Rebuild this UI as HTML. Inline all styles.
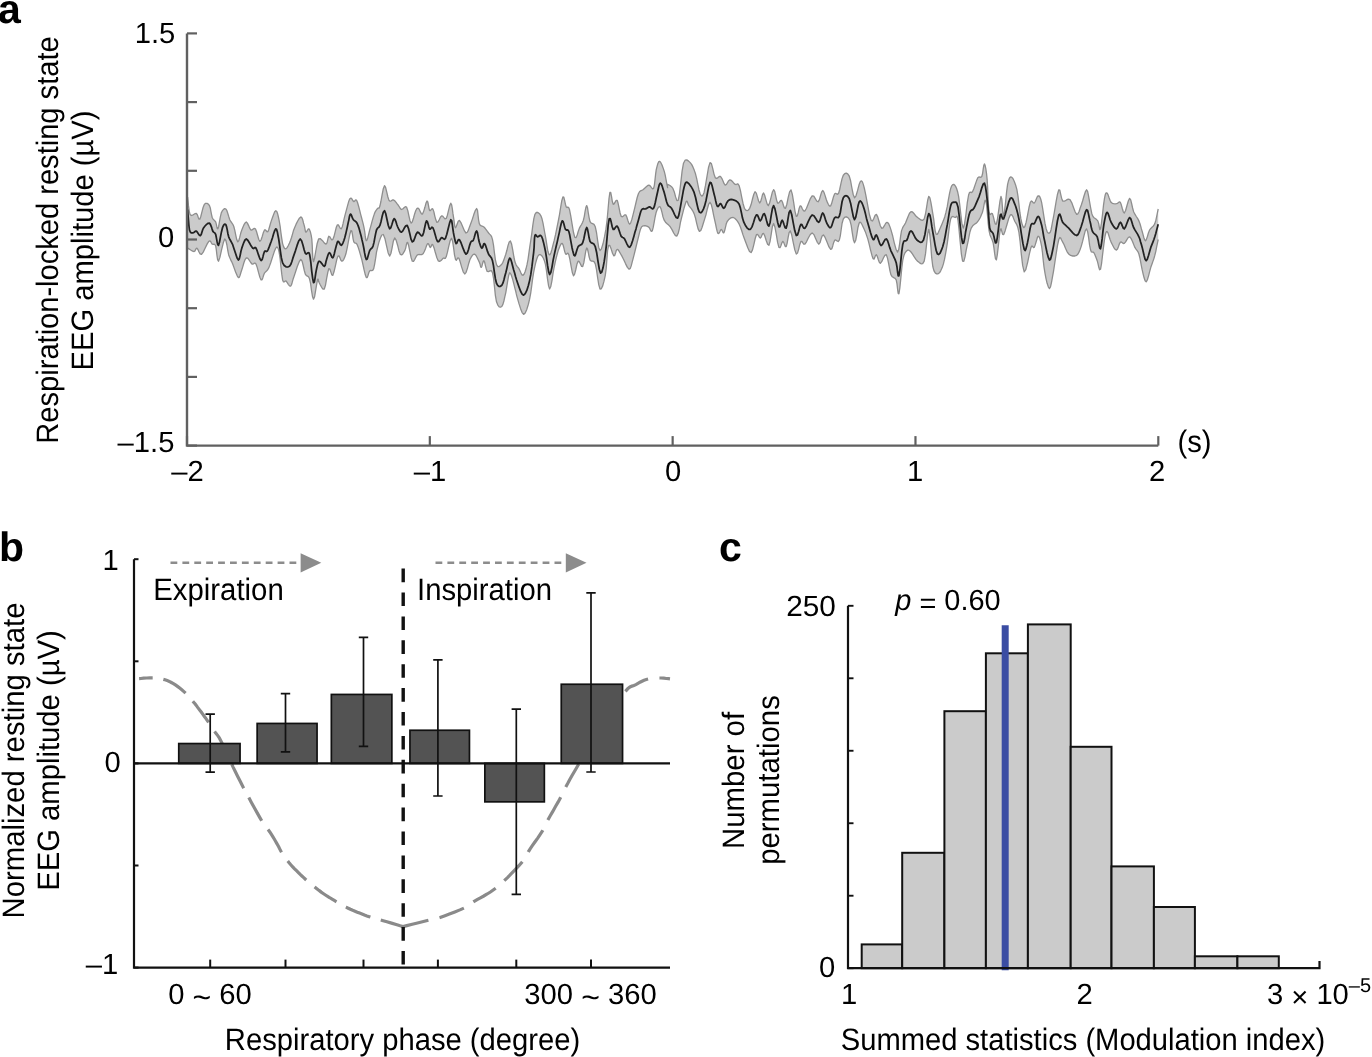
<!DOCTYPE html>
<html><head><meta charset="utf-8"><style>
html,body{margin:0;padding:0;background:#fff;width:1372px;height:1057px;overflow:hidden}
svg{display:block;will-change:transform}
text{font-family:"Liberation Sans", sans-serif;fill:#000;text-rendering:geometricPrecision}
</style></head><body>
<svg width="1372" height="1057" viewBox="0 0 1372 1057">
<rect x="0" y="0" width="1372" height="1057" fill="#fff"/>
<path d="M187.6,197.0 L188.0,200.6 L188.5,205.9 L189.2,211.1 L190.1,214.6 L191.5,215.5 L193.2,214.8 L194.9,213.7 L196.4,213.5 L197.4,214.9 L198.2,217.2 L198.9,219.0 L199.8,219.2 L200.8,216.5 L201.9,212.1 L203.1,207.5 L204.3,204.4 L205.6,203.3 L207.0,203.3 L208.3,204.1 L209.4,205.5 L210.3,207.9 L210.9,211.3 L211.6,214.8 L212.2,217.5 L213.1,219.1 L214.0,220.1 L214.9,220.9 L215.7,222.0 L216.3,224.1 L216.8,226.7 L217.3,228.7 L217.9,228.8 L218.7,226.2 L219.5,221.5 L220.4,216.6 L221.3,212.9 L222.4,210.7 L223.6,209.3 L224.7,208.6 L225.9,209.0 L226.9,210.7 L227.9,213.7 L228.9,217.0 L229.8,219.7 L230.8,221.5 L231.8,222.9 L232.8,224.3 L233.8,226.5 L234.8,230.4 L235.8,235.4 L236.8,239.8 L237.8,241.9 L238.8,240.7 L239.7,237.4 L240.7,233.3 L241.8,230.0 L242.9,227.3 L244.0,224.7 L245.2,222.8 L246.3,222.0 L247.4,223.1 L248.6,225.6 L249.7,228.2 L250.8,230.0 L252.0,230.0 L253.1,229.1 L254.3,228.4 L255.4,228.8 L256.5,231.5 L257.7,235.7 L258.8,239.5 L259.9,241.3 L261.1,239.8 L262.3,236.3 L263.4,232.4 L264.5,230.0 L265.4,229.8 L266.2,230.8 L267.1,231.8 L267.9,231.7 L268.7,229.8 L269.5,227.0 L270.4,223.8 L271.3,220.9 L272.4,217.8 L273.6,214.5 L274.7,211.8 L275.8,210.7 L276.8,211.5 L277.6,213.7 L278.4,217.0 L279.2,220.9 L280.1,226.1 L280.9,232.5 L281.8,238.8 L282.6,243.6 L283.5,246.4 L284.3,248.1 L285.1,248.8 L286.0,248.7 L287.1,247.6 L288.3,245.5 L289.5,242.9 L290.6,240.2 L291.6,237.3 L292.5,234.1 L293.4,230.8 L294.6,227.7 L296.0,224.4 L297.7,221.0 L299.4,218.2 L300.8,216.9 L301.9,217.7 L302.8,220.1 L303.5,223.0 L304.2,225.4 L304.7,227.5 L305.1,229.6 L305.4,231.3 L305.9,232.2 L306.6,231.8 L307.4,230.3 L308.2,229.0 L309.0,228.8 L309.7,230.1 L310.5,232.3 L311.2,235.3 L311.8,239.0 L312.2,244.9 L312.5,252.4 L312.9,259.0 L313.5,261.7 L314.5,258.6 L315.7,251.5 L317.1,243.8 L318.6,239.0 L320.4,238.7 L322.5,240.7 L324.4,243.1 L326.0,244.1 L327.0,242.8 L327.6,240.3 L328.2,237.7 L328.8,236.2 L329.7,236.7 L330.7,238.3 L331.8,239.8 L332.8,239.6 L333.9,236.8 L335.1,232.2 L336.2,227.6 L337.4,224.8 L338.4,224.9 L339.4,226.7 L340.4,228.5 L341.3,228.8 L342.2,227.0 L343.0,223.9 L343.8,220.2 L344.7,216.3 L345.9,211.8 L347.3,206.6 L348.6,201.8 L349.8,198.7 L350.9,198.1 L352.0,199.1 L352.9,200.7 L353.8,201.6 L354.6,201.2 L355.2,200.3 L355.9,199.8 L356.7,200.4 L357.6,202.8 L358.6,206.3 L359.7,210.3 L360.6,214.1 L361.5,217.5 L362.4,220.9 L363.3,224.3 L364.0,227.7 L364.7,231.5 L365.2,235.7 L365.7,239.2 L366.3,240.7 L367.1,239.8 L367.9,237.2 L368.8,233.6 L369.7,230.0 L370.8,226.1 L372.0,221.7 L373.2,217.4 L374.3,214.1 L375.2,211.8 L376.1,210.4 L376.9,209.3 L377.7,208.4 L378.3,208.0 L378.7,208.2 L379.2,207.9 L379.9,206.1 L380.9,201.5 L382.1,194.8 L383.3,188.7 L384.5,185.7 L385.6,187.3 L386.7,191.8 L387.9,197.0 L389.0,200.4 L390.1,201.2 L391.3,200.8 L392.4,200.0 L393.6,199.9 L394.7,200.8 L395.9,202.1 L397.0,203.6 L398.1,205.0 L399.0,206.3 L399.8,207.7 L400.6,208.9 L401.5,209.5 L402.7,209.0 L404.0,207.7 L405.3,206.7 L406.6,207.2 L407.8,210.6 L408.9,215.8 L410.0,220.7 L411.2,223.1 L412.3,221.8 L413.5,218.0 L414.7,213.7 L415.7,210.7 L416.5,209.2 L417.1,208.4 L417.8,208.2 L418.5,208.4 L419.4,209.7 L420.4,211.9 L421.4,213.8 L422.5,214.1 L423.6,211.6 L424.9,207.3 L426.0,203.1 L427.0,201.0 L427.8,202.0 L428.4,205.0 L429.0,208.3 L429.6,210.5 L430.4,210.5 L431.2,209.6 L432.1,208.7 L432.9,209.1 L433.9,211.9 L434.8,216.1 L435.9,220.1 L436.9,222.4 L438.0,221.9 L439.2,219.7 L440.4,217.2 L441.6,215.8 L442.7,216.2 L443.9,217.6 L445.0,218.8 L446.2,218.4 L447.4,215.2 L448.6,210.1 L449.8,205.4 L450.8,203.2 L451.6,204.7 L452.3,208.5 L452.9,213.2 L453.5,217.1 L454.0,220.4 L454.4,223.7 L454.8,226.4 L455.5,227.7 L456.2,226.6 L457.2,223.9 L458.2,221.2 L459.4,220.4 L460.9,222.6 L462.7,226.8 L464.5,230.9 L466.0,233.0 L467.3,232.3 L468.4,230.1 L469.5,226.9 L470.7,223.7 L472.2,219.6 L473.8,214.6 L475.4,210.3 L476.6,208.5 L477.5,210.4 L478.0,214.9 L478.6,220.0 L479.3,223.7 L480.3,225.3 L481.5,225.9 L482.7,226.3 L483.9,227.0 L485.1,228.3 L486.3,229.8 L487.4,231.4 L488.6,233.0 L489.6,234.1 L490.6,235.1 L491.6,236.6 L492.5,239.6 L493.5,245.2 L494.4,252.6 L495.4,259.8 L496.5,264.7 L497.8,266.6 L499.2,266.6 L500.5,265.5 L501.8,264.1 L502.9,262.3 L503.8,259.9 L504.8,257.1 L505.8,254.2 L506.9,250.3 L508.0,245.6 L509.2,241.9 L510.4,240.9 L511.6,244.1 L512.8,250.3 L513.9,257.0 L515.0,262.1 L516.1,264.8 L517.1,266.3 L518.0,267.4 L519.0,268.7 L520.0,270.8 L521.0,273.1 L522.0,274.9 L523.0,275.3 L524.0,274.2 L525.0,272.0 L526.0,268.8 L527.0,264.7 L528.0,259.5 L528.9,253.1 L529.9,246.2 L530.9,239.6 L531.9,232.7 L532.8,225.4 L533.8,218.9 L534.9,214.4 L536.3,212.5 L537.9,212.4 L539.5,213.7 L540.9,215.8 L542.0,218.8 L543.0,223.1 L543.9,228.0 L544.8,233.0 L545.9,238.8 L546.9,245.4 L547.9,251.3 L549.0,254.6 L549.9,254.8 L550.9,252.8 L551.9,249.4 L552.9,245.3 L554.2,240.4 L555.6,234.4 L556.9,227.9 L558.2,221.5 L559.5,214.6 L560.7,207.1 L561.8,200.7 L562.9,197.0 L563.8,197.2 L564.6,200.3 L565.4,204.2 L566.2,206.9 L567.0,207.5 L567.7,207.1 L568.5,207.3 L569.5,209.6 L570.7,215.6 L572.1,224.2 L573.5,232.5 L574.8,237.4 L576.0,237.7 L577.2,235.0 L578.3,231.2 L579.4,228.1 L580.5,226.2 L581.5,224.5 L582.5,222.6 L583.4,220.2 L584.3,216.3 L585.1,211.4 L585.9,207.3 L586.7,205.6 L587.5,207.7 L588.2,212.3 L589.1,217.6 L590.0,221.5 L591.2,223.1 L592.6,223.7 L594.0,224.4 L595.3,226.8 L596.5,232.5 L597.6,240.4 L598.7,247.4 L600.0,250.6 L601.4,248.9 L603.0,243.8 L604.5,236.9 L605.9,229.4 L607.1,220.1 L608.1,208.8 L609.0,198.6 L609.9,192.4 L610.7,192.3 L611.5,196.3 L612.3,201.3 L613.2,204.3 L614.1,203.9 L615.1,202.1 L616.2,200.3 L617.2,200.3 L618.1,203.3 L619.1,208.1 L620.1,213.0 L621.1,216.2 L622.3,216.8 L623.5,216.0 L624.6,214.9 L625.8,214.9 L626.8,217.0 L627.8,220.2 L628.8,223.1 L629.7,224.2 L630.7,222.8 L631.7,219.9 L632.7,216.2 L633.7,212.2 L634.8,207.7 L636.0,202.5 L637.2,197.5 L638.4,193.7 L639.5,191.7 L640.6,190.8 L641.7,190.4 L643.0,189.7 L644.4,188.4 L646.0,187.0 L647.5,185.7 L648.9,185.1 L650.2,185.9 L651.5,187.6 L652.6,188.9 L653.6,188.4 L654.4,185.1 L655.0,179.9 L655.6,174.3 L656.2,169.9 L657.0,166.6 L657.8,163.8 L658.6,161.9 L659.5,161.3 L660.6,162.3 L661.9,164.7 L663.1,167.9 L664.2,171.2 L665.2,175.2 L666.1,179.9 L666.9,184.3 L667.5,187.1 L667.6,187.6 L667.4,186.5 L667.3,185.1 L667.6,184.4 L668.6,184.8 L670.0,185.5 L671.5,186.7 L672.9,188.4 L674.3,192.0 L675.6,196.9 L676.9,200.6 L678.2,200.3 L679.5,193.6 L680.8,182.6 L682.1,171.1 L683.5,163.2 L685.1,160.2 L686.8,159.9 L688.6,161.1 L690.2,162.6 L691.6,164.4 L692.9,166.9 L694.2,170.1 L695.5,173.8 L696.7,178.7 L697.9,184.6 L699.0,190.0 L700.1,193.7 L701.1,195.5 L702.0,196.1 L702.9,195.2 L704.1,192.4 L705.4,185.9 L707.0,176.4 L708.5,167.5 L710.0,162.6 L711.4,163.6 L712.7,168.4 L714.0,174.1 L715.3,177.8 L716.7,178.4 L718.0,177.6 L719.3,176.5 L720.6,176.5 L721.8,178.3 L723.0,181.0 L724.1,183.7 L725.2,185.1 L726.4,184.5 L727.5,182.7 L728.7,180.7 L729.9,179.8 L731.2,180.3 L732.6,181.7 L733.9,183.3 L735.2,184.4 L736.2,184.5 L737.2,184.0 L738.1,184.0 L739.2,185.8 L740.4,190.4 L741.7,197.1 L743.1,203.7 L744.4,208.3 L745.8,210.2 L747.1,210.7 L748.4,210.0 L749.7,208.3 L751.1,204.6 L752.4,199.3 L753.8,194.3 L755.0,191.7 L756.3,193.1 L757.4,196.9 L758.6,201.0 L759.7,203.0 L760.7,201.4 L761.7,197.9 L762.6,194.4 L763.6,193.0 L764.7,195.3 L765.9,199.7 L767.1,203.9 L768.3,205.6 L769.6,203.0 L771.0,197.6 L772.3,192.3 L773.6,189.7 L774.7,191.4 L775.6,195.5 L776.6,200.1 L777.6,203.0 L778.5,203.2 L779.5,202.0 L780.5,200.6 L781.5,200.3 L782.5,202.2 L783.4,205.3 L784.4,207.9 L785.5,208.3 L786.8,204.5 L788.1,197.9 L789.6,191.9 L791.0,189.9 L792.3,194.2 L793.7,202.6 L795.0,211.3 L796.3,216.3 L797.3,215.9 L798.3,212.4 L799.2,208.2 L800.2,205.8 L801.3,206.4 L802.3,208.7 L803.5,210.8 L804.9,211.0 L806.5,208.2 L808.4,203.4 L810.4,198.6 L812.1,195.8 L813.8,196.2 L815.3,198.6 L816.7,201.0 L818.1,201.8 L819.4,199.6 L820.5,195.8 L821.6,192.1 L822.7,190.5 L823.9,192.1 L825.1,195.6 L826.3,199.5 L827.4,202.4 L828.3,204.2 L829.1,205.6 L829.8,206.2 L830.7,205.8 L831.6,203.6 L832.6,200.0 L833.6,196.4 L834.7,193.8 L835.6,193.3 L836.6,193.9 L837.6,194.3 L838.6,193.2 L839.7,189.5 L840.8,184.2 L842.0,178.9 L843.3,175.3 L844.7,173.7 L846.2,173.1 L847.7,173.9 L849.2,176.0 L850.6,180.8 L851.9,188.0 L853.2,194.5 L854.5,197.8 L856.0,195.8 L857.6,190.4 L859.1,184.6 L860.5,181.3 L861.5,180.8 L862.4,181.9 L863.3,184.4 L864.4,188.5 L865.9,195.6 L867.7,205.3 L869.4,214.5 L871.1,220.3 L872.5,221.0 L873.8,218.5 L875.1,215.3 L876.4,214.4 L877.7,216.9 L879.0,221.3 L880.3,225.7 L881.7,228.3 L883.0,227.9 L884.4,225.7 L885.7,223.3 L887.0,222.3 L888.0,222.8 L888.9,224.2 L889.8,226.4 L890.9,229.6 L892.5,235.2 L894.2,242.6 L896.0,249.2 L897.6,252.1 L898.7,249.6 L899.7,243.4 L900.6,236.3 L901.5,230.9 L902.5,228.1 L903.4,226.3 L904.4,224.9 L905.5,223.0 L906.7,220.0 L908.1,216.4 L909.5,213.3 L911.0,211.6 L912.5,212.0 L914.2,213.8 L915.9,216.0 L917.6,217.5 L919.3,218.7 L921.0,220.0 L922.7,220.3 L924.2,218.9 L925.5,214.0 L926.7,206.6 L927.8,199.7 L928.8,196.3 L929.9,197.8 L930.9,202.3 L931.9,208.1 L932.8,213.6 L933.7,219.1 L934.4,225.4 L935.2,230.8 L936.1,234.1 L937.2,234.4 L938.3,232.6 L939.5,229.8 L940.8,226.8 L942.0,223.9 L943.4,220.6 L944.8,216.7 L946.0,212.2 L947.3,206.4 L948.4,199.6 L949.6,193.1 L950.7,188.4 L951.7,185.8 L952.7,184.6 L953.7,184.4 L954.7,185.1 L955.6,186.4 L956.6,188.5 L957.6,191.7 L958.6,196.3 L959.7,204.4 L960.9,215.0 L962.0,224.3 L963.3,228.1 L964.6,223.7 L966.0,213.8 L967.3,202.7 L968.6,195.0 L969.6,192.3 L970.5,192.2 L971.5,192.6 L972.5,191.7 L973.8,188.7 L975.2,184.6 L976.6,180.6 L977.8,177.8 L978.9,176.9 L980.0,177.1 L980.9,177.3 L981.8,176.5 L982.6,173.5 L983.2,169.2 L983.8,165.4 L984.4,163.9 L985.1,165.3 L985.8,168.7 L986.5,173.4 L987.1,179.1 L987.6,186.9 L988.0,196.6 L988.5,205.8 L989.1,212.2 L989.8,214.6 L990.6,214.3 L991.5,213.3 L992.4,213.6 L993.3,216.5 L994.3,220.7 L995.3,224.0 L996.4,224.2 L997.5,218.8 L998.8,209.7 L1000.0,200.8 L1001.0,196.3 L1001.8,199.2 L1002.4,206.5 L1002.9,213.8 L1003.6,216.2 L1004.5,211.3 L1005.6,202.0 L1006.6,191.9 L1007.6,184.4 L1008.6,180.4 L1009.5,178.0 L1010.5,177.0 L1011.6,177.1 L1012.9,178.5 L1014.2,181.2 L1015.6,185.0 L1016.9,189.7 L1018.0,196.3 L1019.0,204.6 L1019.9,212.7 L1020.9,218.9 L1021.8,223.1 L1022.8,226.2 L1023.7,227.6 L1024.8,226.8 L1026.1,222.4 L1027.6,215.0 L1029.0,207.5 L1030.3,202.4 L1031.4,201.0 L1032.4,201.6 L1033.3,202.9 L1034.3,203.0 L1035.3,201.5 L1036.3,199.0 L1037.3,196.8 L1038.2,195.8 L1039.1,196.0 L1039.9,197.0 L1040.7,199.0 L1041.6,202.4 L1042.6,208.2 L1043.8,215.8 L1045.0,223.4 L1046.2,228.9 L1047.2,231.8 L1048.3,233.1 L1049.2,233.2 L1050.2,232.2 L1051.0,230.0 L1051.7,226.5 L1052.5,222.0 L1053.5,217.0 L1054.7,210.1 L1056.1,201.7 L1057.5,194.2 L1058.8,189.8 L1059.8,190.2 L1060.6,193.8 L1061.6,198.2 L1062.7,201.1 L1064.4,201.2 L1066.2,200.2 L1068.2,199.2 L1070.0,199.7 L1071.8,202.8 L1073.5,207.5 L1075.2,212.0 L1076.7,214.3 L1077.9,213.8 L1079.1,211.5 L1080.1,208.3 L1081.3,205.0 L1082.6,201.0 L1084.0,196.0 L1085.4,191.7 L1086.6,189.8 L1087.6,191.3 L1088.4,195.1 L1089.2,199.7 L1089.9,203.7 L1090.5,207.0 L1091.1,210.2 L1091.7,213.2 L1092.5,215.6 L1093.7,217.4 L1095.2,218.5 L1096.6,219.6 L1097.8,220.9 L1098.7,223.6 L1099.3,227.1 L1099.8,229.5 L1100.5,228.9 L1101.4,223.4 L1102.5,214.5 L1103.5,205.2 L1104.5,198.4 L1105.2,195.0 L1105.8,193.3 L1106.4,192.8 L1107.1,193.1 L1108.0,194.6 L1108.9,197.3 L1110.0,200.3 L1111.1,202.4 L1112.4,203.3 L1113.7,203.7 L1115.1,203.8 L1116.4,203.7 L1117.5,203.3 L1118.5,202.5 L1119.4,201.9 L1120.4,202.4 L1121.3,204.8 L1122.3,208.5 L1123.3,211.8 L1124.3,213.0 L1125.6,210.5 L1127.0,205.5 L1128.4,200.7 L1129.6,198.4 L1130.7,199.9 L1131.6,203.5 L1132.6,208.0 L1133.6,211.7 L1134.9,214.2 L1136.3,216.5 L1137.7,218.6 L1138.9,220.9 L1139.9,223.5 L1140.7,226.2 L1141.4,228.9 L1142.2,231.5 L1143.0,234.4 L1143.8,237.5 L1144.7,239.9 L1145.5,240.8 L1146.4,239.4 L1147.4,236.5 L1148.4,233.0 L1149.5,230.2 L1150.8,228.4 L1152.2,227.1 L1153.6,225.7 L1154.8,223.6 L1155.9,220.2 L1156.8,215.9 L1157.6,211.8 L1158.2,209.0 L1158.2,239.5 L1157.6,242.4 L1156.7,246.7 L1155.8,251.3 L1154.8,255.4 L1153.9,258.6 L1152.9,261.4 L1151.9,264.2 L1150.8,267.3 L1149.7,271.4 L1148.5,276.1 L1147.3,280.0 L1146.2,281.9 L1145.1,280.8 L1144.1,277.8 L1143.1,273.8 L1142.2,269.9 L1141.4,266.0 L1140.6,261.7 L1139.8,257.5 L1138.9,254.0 L1138.0,251.8 L1137.0,250.4 L1136.0,249.1 L1134.9,247.4 L1133.7,244.6 L1132.4,241.3 L1131.0,238.4 L1129.6,236.8 L1128.3,237.5 L1126.9,239.6 L1125.6,241.9 L1124.3,243.4 L1123.3,243.5 L1122.3,242.7 L1121.3,242.0 L1120.4,242.1 L1119.4,243.8 L1118.5,246.5 L1117.5,249.0 L1116.4,250.1 L1115.1,249.3 L1113.7,247.3 L1112.4,244.7 L1111.1,242.1 L1110.0,239.2 L1108.9,235.8 L1108.0,232.9 L1107.1,231.5 L1106.4,231.7 L1105.8,233.0 L1105.2,235.5 L1104.5,239.5 L1103.6,246.3 L1102.5,255.4 L1101.5,264.0 L1100.5,269.3 L1099.6,269.8 L1098.8,267.3 L1098.0,263.7 L1097.2,260.7 L1096.4,258.5 L1095.5,256.3 L1094.7,254.3 L1093.9,252.7 L1093.1,252.1 L1092.3,252.2 L1091.4,251.9 L1090.6,250.1 L1089.6,245.2 L1088.7,238.2 L1087.7,231.9 L1086.6,228.9 L1085.3,230.7 L1084.0,235.6 L1082.6,241.4 L1081.3,246.1 L1080.2,249.2 L1079.1,251.9 L1078.0,254.0 L1076.7,255.4 L1074.9,256.0 L1072.8,256.0 L1070.6,255.4 L1068.7,254.0 L1067.0,251.6 L1065.5,248.2 L1064.1,244.7 L1062.7,242.1 L1061.6,240.0 L1060.7,238.1 L1059.8,237.5 L1058.8,239.5 L1057.5,245.3 L1056.1,254.1 L1054.7,263.5 L1053.5,271.3 L1052.4,277.4 L1051.4,282.8 L1050.5,286.8 L1049.5,288.5 L1048.4,287.1 L1047.1,283.3 L1045.9,278.1 L1044.9,272.6 L1043.9,266.3 L1043.1,259.0 L1042.4,251.8 L1041.6,246.1 L1040.7,241.9 L1039.9,238.8 L1039.1,236.8 L1038.2,236.2 L1037.3,237.7 L1036.3,241.2 L1035.2,244.9 L1034.3,247.4 L1033.5,247.6 L1032.8,246.6 L1032.0,246.0 L1031.0,247.4 L1029.5,253.3 L1027.7,262.1 L1025.8,269.7 L1024.2,271.8 L1022.7,265.7 L1021.3,254.1 L1020.1,241.5 L1018.9,232.1 L1017.8,227.3 L1016.8,224.7 L1015.9,223.2 L1014.9,221.5 L1013.8,218.9 L1012.8,216.3 L1011.6,214.6 L1010.3,214.9 L1008.7,218.6 L1006.9,224.7 L1005.1,230.9 L1003.6,234.7 L1002.6,234.4 L1001.8,231.4 L1001.1,228.8 L1000.3,229.4 L999.4,235.7 L998.4,245.4 L997.3,254.8 L996.4,259.9 L995.5,258.8 L994.7,253.9 L993.9,247.7 L993.1,242.7 L992.1,239.8 L991.1,237.6 L990.0,234.9 L989.1,230.8 L988.2,223.5 L987.4,214.1 L986.6,205.4 L985.8,200.3 L985.0,200.4 L984.2,203.8 L983.4,208.4 L982.5,212.2 L981.4,214.8 L980.4,217.2 L979.2,219.4 L977.8,221.5 L976.3,223.1 L974.5,224.3 L972.7,225.8 L971.2,228.1 L970.0,231.7 L969.1,236.2 L968.2,240.9 L967.2,245.3 L966.1,250.7 L965.0,256.9 L963.8,261.3 L962.6,261.2 L961.4,254.1 L960.2,241.9 L959.0,229.1 L958.0,220.2 L957.2,216.7 L956.6,216.2 L956.1,217.0 L955.3,217.5 L954.3,217.1 L953.0,216.5 L951.8,216.8 L950.7,218.9 L949.8,223.3 L949.0,229.5 L948.2,236.4 L947.4,242.7 L946.5,248.4 L945.5,254.2 L944.5,259.4 L943.4,263.9 L942.2,267.6 L940.8,270.6 L939.5,272.8 L938.1,273.8 L936.7,273.9 L935.4,273.1 L934.0,270.8 L932.8,266.5 L931.7,257.7 L930.8,245.5 L929.8,234.6 L928.8,229.4 L927.8,233.3 L926.7,243.0 L925.5,253.9 L924.2,261.2 L922.7,263.7 L921.0,263.8 L919.3,262.6 L917.6,261.2 L915.9,259.4 L914.1,256.7 L912.4,253.9 L911.0,252.0 L909.7,250.8 L908.7,250.2 L907.8,250.1 L906.8,250.8 L905.8,251.8 L904.8,253.2 L903.8,255.8 L902.8,260.0 L901.8,267.9 L900.8,278.4 L899.8,288.1 L898.9,293.8 L898.2,293.5 L897.6,289.3 L897.0,283.9 L896.2,279.9 L895.1,278.3 L893.7,277.6 L892.3,276.8 L890.9,274.6 L889.8,270.0 L888.7,263.8 L887.5,258.1 L886.3,254.7 L884.9,255.3 L883.3,258.3 L881.7,261.7 L880.3,263.4 L879.2,262.1 L878.2,259.3 L877.3,256.4 L876.4,254.7 L875.5,255.4 L874.8,257.4 L874.0,259.1 L873.1,258.7 L871.9,255.2 L870.5,249.8 L869.1,243.8 L867.8,238.9 L866.5,235.1 L865.4,231.9 L864.2,229.2 L863.1,226.9 L862.1,224.8 L861.1,223.0 L860.2,222.1 L859.2,223.0 L858.0,227.2 L856.9,234.1 L855.7,240.3 L854.5,242.8 L853.4,239.7 L852.3,232.9 L851.2,225.4 L849.9,220.3 L848.3,218.0 L846.5,216.9 L844.8,217.2 L843.3,219.0 L842.1,223.2 L841.2,229.5 L840.3,235.8 L839.3,240.2 L838.2,241.5 L837.0,240.9 L835.8,240.0 L834.7,240.2 L833.7,242.4 L832.8,245.7 L831.9,248.6 L830.7,249.4 L829.0,246.9 L827.1,242.2 L825.1,237.4 L823.4,234.9 L822.1,236.0 L821.0,239.3 L820.0,242.7 L818.8,244.2 L817.3,242.3 L815.6,238.4 L813.9,234.6 L812.1,232.9 L810.3,234.5 L808.3,238.0 L806.5,241.8 L804.9,244.2 L803.7,244.1 L802.7,242.7 L801.9,241.4 L800.9,241.5 L799.8,244.4 L798.7,249.1 L797.5,253.1 L796.3,254.1 L794.8,249.9 L793.2,242.3 L791.7,234.8 L790.3,230.9 L789.1,232.6 L788.1,237.7 L787.1,243.3 L786.2,246.7 L785.3,246.6 L784.5,244.6 L783.7,242.4 L782.8,241.4 L781.9,242.8 L781.0,245.5 L780.0,247.7 L778.9,247.3 L777.6,242.4 L776.3,234.4 L774.9,226.9 L773.6,223.5 L772.4,226.5 L771.3,233.7 L770.1,241.2 L768.9,245.3 L767.6,244.3 L766.2,240.5 L764.8,236.0 L763.6,233.4 L762.7,233.6 L761.9,235.2 L761.2,237.1 L760.3,238.1 L759.4,237.3 L758.5,235.6 L757.5,234.3 L756.4,234.7 L755.2,238.5 L753.9,244.3 L752.5,249.9 L751.1,252.6 L749.5,251.4 L747.8,247.7 L746.0,243.0 L744.4,238.7 L743.0,234.9 L741.8,231.0 L740.5,227.3 L739.2,224.2 L737.7,221.7 L736.2,219.7 L734.7,218.3 L733.2,217.5 L731.6,217.6 L730.0,218.4 L728.5,219.8 L727.2,221.5 L726.2,224.1 L725.4,227.6 L724.6,230.8 L723.9,232.8 L723.2,232.8 L722.6,231.6 L722.0,230.1 L721.3,229.4 L720.5,230.3 L719.7,232.1 L718.8,233.5 L718.0,233.4 L717.2,231.4 L716.4,228.2 L715.6,224.2 L714.7,220.2 L713.6,215.2 L712.5,209.4 L711.3,204.5 L710.0,202.3 L708.7,204.1 L707.4,208.7 L706.1,214.2 L704.7,218.9 L703.4,223.0 L702.1,227.3 L700.8,230.5 L699.4,231.4 L698.1,228.9 L696.8,223.8 L695.5,218.0 L694.1,213.6 L692.7,210.8 L691.3,208.7 L690.0,207.1 L688.8,205.6 L688.0,203.9 L687.5,202.1 L686.9,201.1 L686.2,201.6 L685.2,204.2 L684.0,208.2 L682.8,212.9 L681.6,217.5 L680.4,222.6 L679.4,228.4 L678.2,233.3 L676.9,236.1 L675.4,235.6 L673.7,233.0 L672.0,229.6 L670.3,226.8 L668.7,225.1 L667.1,223.7 L665.5,222.2 L664.2,220.2 L663.0,216.9 L662.1,212.8 L661.1,209.1 L660.2,206.9 L659.2,206.6 L658.2,207.6 L657.2,209.5 L656.2,212.2 L655.2,216.5 L654.2,222.1 L653.2,227.4 L652.3,230.8 L651.3,231.3 L650.4,229.9 L649.5,228.0 L648.3,226.8 L646.8,226.2 L645.0,225.7 L643.2,225.8 L641.7,226.8 L640.5,229.1 L639.6,232.3 L638.7,236.0 L637.7,240.0 L636.6,244.5 L635.4,249.5 L634.2,254.4 L633.1,258.6 L632.1,262.3 L631.2,265.9 L630.3,268.4 L629.1,269.2 L627.4,267.4 L625.5,263.6 L623.5,259.3 L621.8,255.9 L620.4,253.5 L619.2,251.4 L618.2,249.9 L617.2,249.3 L616.3,250.4 L615.6,252.9 L614.8,255.2 L613.9,255.9 L612.6,253.5 L611.2,249.1 L609.8,245.5 L608.6,245.3 L607.6,250.5 L606.9,259.1 L606.2,268.4 L605.2,275.8 L604.0,281.2 L602.7,285.9 L601.3,288.8 L600.0,289.0 L598.8,284.9 L597.6,277.5 L596.5,269.6 L595.3,263.9 L594.0,261.6 L592.6,261.1 L591.2,261.0 L590.0,259.9 L589.1,256.8 L588.3,252.5 L587.5,249.0 L586.7,248.0 L585.8,251.0 L584.8,256.8 L583.8,262.9 L582.7,266.5 L581.6,266.4 L580.5,264.1 L579.3,261.7 L578.1,261.2 L576.9,264.3 L575.8,269.5 L574.6,274.2 L573.5,275.8 L572.3,272.5 L571.1,266.2 L569.9,259.3 L568.8,254.6 L567.9,253.2 L567.1,253.6 L566.3,254.3 L565.5,253.9 L564.7,251.6 L563.9,248.2 L563.1,245.0 L562.2,243.4 L561.3,243.7 L560.3,245.3 L559.3,247.8 L558.2,250.6 L557.3,253.8 L556.3,257.6 L555.3,261.9 L554.3,266.5 L553.1,272.8 L552.0,280.3 L550.8,286.5 L549.6,289.0 L548.6,285.9 L547.5,278.9 L546.5,270.9 L545.5,264.7 L544.5,261.1 L543.5,258.5 L542.5,256.7 L541.5,255.5 L540.5,254.7 L539.5,254.6 L538.5,255.2 L537.6,256.8 L536.6,259.5 L535.6,263.2 L534.6,267.6 L533.6,272.7 L532.6,278.8 L531.7,286.0 L530.7,293.1 L529.6,299.2 L528.3,304.5 L526.8,309.4 L525.2,313.0 L523.6,314.4 L522.1,312.6 L520.5,308.4 L518.9,303.4 L517.7,299.2 L516.9,296.3 L516.3,293.9 L515.8,291.5 L515.0,288.6 L513.9,284.1 L512.5,278.7 L511.0,274.3 L509.7,272.7 L508.7,275.3 L507.7,280.8 L506.7,287.2 L505.8,292.6 L504.8,296.9 L503.9,301.0 L502.9,304.4 L501.8,306.5 L500.5,307.2 L499.2,306.8 L497.8,305.1 L496.5,301.8 L495.4,295.6 L494.5,287.0 L493.6,278.6 L492.5,272.7 L491.3,270.6 L489.8,270.9 L488.5,271.7 L487.2,271.4 L486.3,269.0 L485.4,265.6 L484.7,262.4 L483.9,260.8 L483.2,261.5 L482.5,263.8 L481.9,266.2 L481.3,267.4 L480.8,267.0 L480.4,265.7 L480.0,263.9 L479.3,262.1 L478.3,260.0 L477.1,257.5 L475.9,255.3 L474.7,254.2 L473.5,254.3 L472.4,255.4 L471.2,257.2 L470.0,259.4 L468.8,263.2 L467.5,268.1 L466.1,272.3 L464.7,274.0 L463.2,271.8 L461.6,266.9 L460.1,261.6 L458.8,258.1 L457.8,257.8 L457.0,259.1 L456.3,260.3 L455.5,259.4 L454.5,254.8 L453.6,247.8 L452.6,241.3 L451.5,238.3 L450.2,240.5 L448.8,246.1 L447.4,252.4 L446.2,256.8 L445.4,258.3 L444.9,258.5 L444.3,258.1 L443.5,258.1 L442.4,259.1 L441.1,260.5 L439.6,261.4 L438.2,260.8 L436.9,257.7 L435.4,252.8 L434.1,248.0 L432.9,244.9 L432.1,244.4 L431.5,245.5 L430.9,246.9 L430.3,247.5 L429.7,246.7 L429.1,245.1 L428.4,243.7 L427.6,243.6 L426.7,245.3 L425.6,248.4 L424.3,251.5 L423.1,253.8 L421.7,254.6 L420.3,254.6 L418.8,254.5 L417.4,254.9 L416.1,256.7 L414.8,259.3 L413.5,261.3 L412.3,261.2 L411.1,257.6 L409.9,251.7 L408.7,245.8 L407.7,242.4 L407.0,242.6 L406.3,245.0 L405.7,248.1 L404.9,250.4 L403.9,252.1 L402.8,253.9 L401.6,254.9 L400.4,254.4 L399.0,250.9 L397.6,245.2 L396.1,240.1 L394.7,237.9 L393.4,240.9 L392.2,247.3 L390.9,253.5 L389.6,256.1 L388.1,252.7 L386.5,245.6 L384.9,238.4 L383.3,234.5 L381.8,235.0 L380.4,238.0 L378.9,242.4 L377.7,247.0 L376.5,252.2 L375.6,258.4 L374.6,264.3 L373.7,268.6 L372.7,270.4 L371.7,270.6 L370.7,270.4 L369.7,270.8 L368.8,272.8 L368.0,275.5 L367.2,277.6 L366.3,277.6 L365.3,274.8 L364.1,269.9 L362.9,264.4 L361.8,259.5 L360.6,255.3 L359.4,251.1 L358.3,247.5 L357.2,244.7 L356.3,243.4 L355.4,243.1 L354.6,242.9 L353.8,241.9 L353.1,238.8 L352.5,234.6 L351.8,231.1 L351.0,230.5 L349.8,234.3 L348.5,241.0 L347.1,248.3 L345.9,253.8 L344.8,257.1 L343.8,259.3 L342.9,260.6 L341.9,261.2 L340.9,260.2 L340.0,257.9 L339.0,255.9 L337.9,256.1 L336.7,259.8 L335.4,265.8 L334.0,271.8 L332.8,275.4 L331.8,274.9 L330.8,271.9 L329.8,269.0 L328.8,268.6 L327.8,272.4 L326.6,278.7 L325.5,285.1 L324.3,289.0 L323.0,289.2 L321.6,287.3 L320.2,284.7 L319.2,282.7 L318.6,281.3 L318.3,279.7 L318.0,279.0 L317.5,279.9 L316.7,284.1 L315.6,290.7 L314.6,296.7 L313.5,299.2 L312.5,296.5 L311.5,290.5 L310.6,283.7 L309.5,278.8 L308.5,276.8 L307.5,276.1 L306.4,275.7 L305.3,274.2 L304.3,270.5 L303.2,265.5 L302.1,261.2 L300.8,259.5 L299.2,261.7 L297.3,266.5 L295.5,272.0 L294.0,276.5 L292.9,279.8 L292.1,282.7 L291.4,285.0 L290.6,286.2 L289.5,285.8 L288.3,284.3 L287.1,282.4 L286.0,281.0 L285.1,281.1 L284.3,281.9 L283.5,281.9 L282.6,279.9 L281.8,274.4 L280.9,266.5 L280.1,258.5 L279.2,252.7 L278.5,249.4 L277.7,247.5 L276.9,247.0 L275.8,248.1 L274.3,251.6 L272.5,257.1 L270.6,263.0 L269.0,267.4 L267.7,269.8 L266.5,271.0 L265.5,271.9 L264.5,273.1 L263.6,275.3 L262.8,277.9 L262.0,279.8 L261.1,279.9 L259.9,277.2 L258.5,272.4 L257.2,267.4 L256.0,264.0 L254.9,263.0 L254.0,263.4 L253.1,264.1 L252.0,264.0 L250.7,262.5 L249.2,260.1 L247.7,258.2 L246.3,257.8 L245.1,259.6 L243.9,262.8 L242.8,266.6 L241.8,269.7 L240.9,272.5 L240.1,275.3 L239.3,277.3 L238.4,277.6 L237.1,275.6 L235.6,271.9 L234.0,267.6 L232.7,264.0 L231.6,261.6 L230.6,259.6 L229.7,257.6 L228.7,254.9 L227.8,250.5 L226.9,245.0 L225.9,240.5 L224.7,239.0 L223.3,242.8 L221.5,250.1 L219.9,257.4 L218.5,261.2 L217.6,259.7 L216.9,255.0 L216.3,249.6 L215.7,245.8 L214.8,244.5 L214.0,244.2 L213.1,244.3 L212.2,244.1 L211.5,243.1 L210.8,241.8 L210.0,240.9 L208.8,241.3 L207.2,243.9 L205.2,248.0 L203.2,252.1 L201.5,254.4 L200.1,253.9 L198.9,251.8 L197.9,249.5 L196.9,248.1 L196.2,248.5 L195.6,249.6 L195.0,250.9 L194.1,251.5 L192.6,251.1 L190.7,250.0 L188.9,248.9 L187.6,248.1 Z" fill="#cbcbcb" stroke="none"/>
<polyline points="187.6,197.0 188.0,200.6 188.5,205.9 189.2,211.1 190.1,214.6 191.5,215.5 193.2,214.8 194.9,213.7 196.4,213.5 197.4,214.9 198.2,217.2 198.9,219.0 199.8,219.2 200.8,216.5 201.9,212.1 203.1,207.5 204.3,204.4 205.6,203.3 207.0,203.3 208.3,204.1 209.4,205.5 210.3,207.9 210.9,211.3 211.6,214.8 212.2,217.5 213.1,219.1 214.0,220.1 214.9,220.9 215.7,222.0 216.3,224.1 216.8,226.7 217.3,228.7 217.9,228.8 218.7,226.2 219.5,221.5 220.4,216.6 221.3,212.9 222.4,210.7 223.6,209.3 224.7,208.6 225.9,209.0 226.9,210.7 227.9,213.7 228.9,217.0 229.8,219.7 230.8,221.5 231.8,222.9 232.8,224.3 233.8,226.5 234.8,230.4 235.8,235.4 236.8,239.8 237.8,241.9 238.8,240.7 239.7,237.4 240.7,233.3 241.8,230.0 242.9,227.3 244.0,224.7 245.2,222.8 246.3,222.0 247.4,223.1 248.6,225.6 249.7,228.2 250.8,230.0 252.0,230.0 253.1,229.1 254.3,228.4 255.4,228.8 256.5,231.5 257.7,235.7 258.8,239.5 259.9,241.3 261.1,239.8 262.3,236.3 263.4,232.4 264.5,230.0 265.4,229.8 266.2,230.8 267.1,231.8 267.9,231.7 268.7,229.8 269.5,227.0 270.4,223.8 271.3,220.9 272.4,217.8 273.6,214.5 274.7,211.8 275.8,210.7 276.8,211.5 277.6,213.7 278.4,217.0 279.2,220.9 280.1,226.1 280.9,232.5 281.8,238.8 282.6,243.6 283.5,246.4 284.3,248.1 285.1,248.8 286.0,248.7 287.1,247.6 288.3,245.5 289.5,242.9 290.6,240.2 291.6,237.3 292.5,234.1 293.4,230.8 294.6,227.7 296.0,224.4 297.7,221.0 299.4,218.2 300.8,216.9 301.9,217.7 302.8,220.1 303.5,223.0 304.2,225.4 304.7,227.5 305.1,229.6 305.4,231.3 305.9,232.2 306.6,231.8 307.4,230.3 308.2,229.0 309.0,228.8 309.7,230.1 310.5,232.3 311.2,235.3 311.8,239.0 312.2,244.9 312.5,252.4 312.9,259.0 313.5,261.7 314.5,258.6 315.7,251.5 317.1,243.8 318.6,239.0 320.4,238.7 322.5,240.7 324.4,243.1 326.0,244.1 327.0,242.8 327.6,240.3 328.2,237.7 328.8,236.2 329.7,236.7 330.7,238.3 331.8,239.8 332.8,239.6 333.9,236.8 335.1,232.2 336.2,227.6 337.4,224.8 338.4,224.9 339.4,226.7 340.4,228.5 341.3,228.8 342.2,227.0 343.0,223.9 343.8,220.2 344.7,216.3 345.9,211.8 347.3,206.6 348.6,201.8 349.8,198.7 350.9,198.1 352.0,199.1 352.9,200.7 353.8,201.6 354.6,201.2 355.2,200.3 355.9,199.8 356.7,200.4 357.6,202.8 358.6,206.3 359.7,210.3 360.6,214.1 361.5,217.5 362.4,220.9 363.3,224.3 364.0,227.7 364.7,231.5 365.2,235.7 365.7,239.2 366.3,240.7 367.1,239.8 367.9,237.2 368.8,233.6 369.7,230.0 370.8,226.1 372.0,221.7 373.2,217.4 374.3,214.1 375.2,211.8 376.1,210.4 376.9,209.3 377.7,208.4 378.3,208.0 378.7,208.2 379.2,207.9 379.9,206.1 380.9,201.5 382.1,194.8 383.3,188.7 384.5,185.7 385.6,187.3 386.7,191.8 387.9,197.0 389.0,200.4 390.1,201.2 391.3,200.8 392.4,200.0 393.6,199.9 394.7,200.8 395.9,202.1 397.0,203.6 398.1,205.0 399.0,206.3 399.8,207.7 400.6,208.9 401.5,209.5 402.7,209.0 404.0,207.7 405.3,206.7 406.6,207.2 407.8,210.6 408.9,215.8 410.0,220.7 411.2,223.1 412.3,221.8 413.5,218.0 414.7,213.7 415.7,210.7 416.5,209.2 417.1,208.4 417.8,208.2 418.5,208.4 419.4,209.7 420.4,211.9 421.4,213.8 422.5,214.1 423.6,211.6 424.9,207.3 426.0,203.1 427.0,201.0 427.8,202.0 428.4,205.0 429.0,208.3 429.6,210.5 430.4,210.5 431.2,209.6 432.1,208.7 432.9,209.1 433.9,211.9 434.8,216.1 435.9,220.1 436.9,222.4 438.0,221.9 439.2,219.7 440.4,217.2 441.6,215.8 442.7,216.2 443.9,217.6 445.0,218.8 446.2,218.4 447.4,215.2 448.6,210.1 449.8,205.4 450.8,203.2 451.6,204.7 452.3,208.5 452.9,213.2 453.5,217.1 454.0,220.4 454.4,223.7 454.8,226.4 455.5,227.7 456.2,226.6 457.2,223.9 458.2,221.2 459.4,220.4 460.9,222.6 462.7,226.8 464.5,230.9 466.0,233.0 467.3,232.3 468.4,230.1 469.5,226.9 470.7,223.7 472.2,219.6 473.8,214.6 475.4,210.3 476.6,208.5 477.5,210.4 478.0,214.9 478.6,220.0 479.3,223.7 480.3,225.3 481.5,225.9 482.7,226.3 483.9,227.0 485.1,228.3 486.3,229.8 487.4,231.4 488.6,233.0 489.6,234.1 490.6,235.1 491.6,236.6 492.5,239.6 493.5,245.2 494.4,252.6 495.4,259.8 496.5,264.7 497.8,266.6 499.2,266.6 500.5,265.5 501.8,264.1 502.9,262.3 503.8,259.9 504.8,257.1 505.8,254.2 506.9,250.3 508.0,245.6 509.2,241.9 510.4,240.9 511.6,244.1 512.8,250.3 513.9,257.0 515.0,262.1 516.1,264.8 517.1,266.3 518.0,267.4 519.0,268.7 520.0,270.8 521.0,273.1 522.0,274.9 523.0,275.3 524.0,274.2 525.0,272.0 526.0,268.8 527.0,264.7 528.0,259.5 528.9,253.1 529.9,246.2 530.9,239.6 531.9,232.7 532.8,225.4 533.8,218.9 534.9,214.4 536.3,212.5 537.9,212.4 539.5,213.7 540.9,215.8 542.0,218.8 543.0,223.1 543.9,228.0 544.8,233.0 545.9,238.8 546.9,245.4 547.9,251.3 549.0,254.6 549.9,254.8 550.9,252.8 551.9,249.4 552.9,245.3 554.2,240.4 555.6,234.4 556.9,227.9 558.2,221.5 559.5,214.6 560.7,207.1 561.8,200.7 562.9,197.0 563.8,197.2 564.6,200.3 565.4,204.2 566.2,206.9 567.0,207.5 567.7,207.1 568.5,207.3 569.5,209.6 570.7,215.6 572.1,224.2 573.5,232.5 574.8,237.4 576.0,237.7 577.2,235.0 578.3,231.2 579.4,228.1 580.5,226.2 581.5,224.5 582.5,222.6 583.4,220.2 584.3,216.3 585.1,211.4 585.9,207.3 586.7,205.6 587.5,207.7 588.2,212.3 589.1,217.6 590.0,221.5 591.2,223.1 592.6,223.7 594.0,224.4 595.3,226.8 596.5,232.5 597.6,240.4 598.7,247.4 600.0,250.6 601.4,248.9 603.0,243.8 604.5,236.9 605.9,229.4 607.1,220.1 608.1,208.8 609.0,198.6 609.9,192.4 610.7,192.3 611.5,196.3 612.3,201.3 613.2,204.3 614.1,203.9 615.1,202.1 616.2,200.3 617.2,200.3 618.1,203.3 619.1,208.1 620.1,213.0 621.1,216.2 622.3,216.8 623.5,216.0 624.6,214.9 625.8,214.9 626.8,217.0 627.8,220.2 628.8,223.1 629.7,224.2 630.7,222.8 631.7,219.9 632.7,216.2 633.7,212.2 634.8,207.7 636.0,202.5 637.2,197.5 638.4,193.7 639.5,191.7 640.6,190.8 641.7,190.4 643.0,189.7 644.4,188.4 646.0,187.0 647.5,185.7 648.9,185.1 650.2,185.9 651.5,187.6 652.6,188.9 653.6,188.4 654.4,185.1 655.0,179.9 655.6,174.3 656.2,169.9 657.0,166.6 657.8,163.8 658.6,161.9 659.5,161.3 660.6,162.3 661.9,164.7 663.1,167.9 664.2,171.2 665.2,175.2 666.1,179.9 666.9,184.3 667.5,187.1 667.6,187.6 667.4,186.5 667.3,185.1 667.6,184.4 668.6,184.8 670.0,185.5 671.5,186.7 672.9,188.4 674.3,192.0 675.6,196.9 676.9,200.6 678.2,200.3 679.5,193.6 680.8,182.6 682.1,171.1 683.5,163.2 685.1,160.2 686.8,159.9 688.6,161.1 690.2,162.6 691.6,164.4 692.9,166.9 694.2,170.1 695.5,173.8 696.7,178.7 697.9,184.6 699.0,190.0 700.1,193.7 701.1,195.5 702.0,196.1 702.9,195.2 704.1,192.4 705.4,185.9 707.0,176.4 708.5,167.5 710.0,162.6 711.4,163.6 712.7,168.4 714.0,174.1 715.3,177.8 716.7,178.4 718.0,177.6 719.3,176.5 720.6,176.5 721.8,178.3 723.0,181.0 724.1,183.7 725.2,185.1 726.4,184.5 727.5,182.7 728.7,180.7 729.9,179.8 731.2,180.3 732.6,181.7 733.9,183.3 735.2,184.4 736.2,184.5 737.2,184.0 738.1,184.0 739.2,185.8 740.4,190.4 741.7,197.1 743.1,203.7 744.4,208.3 745.8,210.2 747.1,210.7 748.4,210.0 749.7,208.3 751.1,204.6 752.4,199.3 753.8,194.3 755.0,191.7 756.3,193.1 757.4,196.9 758.6,201.0 759.7,203.0 760.7,201.4 761.7,197.9 762.6,194.4 763.6,193.0 764.7,195.3 765.9,199.7 767.1,203.9 768.3,205.6 769.6,203.0 771.0,197.6 772.3,192.3 773.6,189.7 774.7,191.4 775.6,195.5 776.6,200.1 777.6,203.0 778.5,203.2 779.5,202.0 780.5,200.6 781.5,200.3 782.5,202.2 783.4,205.3 784.4,207.9 785.5,208.3 786.8,204.5 788.1,197.9 789.6,191.9 791.0,189.9 792.3,194.2 793.7,202.6 795.0,211.3 796.3,216.3 797.3,215.9 798.3,212.4 799.2,208.2 800.2,205.8 801.3,206.4 802.3,208.7 803.5,210.8 804.9,211.0 806.5,208.2 808.4,203.4 810.4,198.6 812.1,195.8 813.8,196.2 815.3,198.6 816.7,201.0 818.1,201.8 819.4,199.6 820.5,195.8 821.6,192.1 822.7,190.5 823.9,192.1 825.1,195.6 826.3,199.5 827.4,202.4 828.3,204.2 829.1,205.6 829.8,206.2 830.7,205.8 831.6,203.6 832.6,200.0 833.6,196.4 834.7,193.8 835.6,193.3 836.6,193.9 837.6,194.3 838.6,193.2 839.7,189.5 840.8,184.2 842.0,178.9 843.3,175.3 844.7,173.7 846.2,173.1 847.7,173.9 849.2,176.0 850.6,180.8 851.9,188.0 853.2,194.5 854.5,197.8 856.0,195.8 857.6,190.4 859.1,184.6 860.5,181.3 861.5,180.8 862.4,181.9 863.3,184.4 864.4,188.5 865.9,195.6 867.7,205.3 869.4,214.5 871.1,220.3 872.5,221.0 873.8,218.5 875.1,215.3 876.4,214.4 877.7,216.9 879.0,221.3 880.3,225.7 881.7,228.3 883.0,227.9 884.4,225.7 885.7,223.3 887.0,222.3 888.0,222.8 888.9,224.2 889.8,226.4 890.9,229.6 892.5,235.2 894.2,242.6 896.0,249.2 897.6,252.1 898.7,249.6 899.7,243.4 900.6,236.3 901.5,230.9 902.5,228.1 903.4,226.3 904.4,224.9 905.5,223.0 906.7,220.0 908.1,216.4 909.5,213.3 911.0,211.6 912.5,212.0 914.2,213.8 915.9,216.0 917.6,217.5 919.3,218.7 921.0,220.0 922.7,220.3 924.2,218.9 925.5,214.0 926.7,206.6 927.8,199.7 928.8,196.3 929.9,197.8 930.9,202.3 931.9,208.1 932.8,213.6 933.7,219.1 934.4,225.4 935.2,230.8 936.1,234.1 937.2,234.4 938.3,232.6 939.5,229.8 940.8,226.8 942.0,223.9 943.4,220.6 944.8,216.7 946.0,212.2 947.3,206.4 948.4,199.6 949.6,193.1 950.7,188.4 951.7,185.8 952.7,184.6 953.7,184.4 954.7,185.1 955.6,186.4 956.6,188.5 957.6,191.7 958.6,196.3 959.7,204.4 960.9,215.0 962.0,224.3 963.3,228.1 964.6,223.7 966.0,213.8 967.3,202.7 968.6,195.0 969.6,192.3 970.5,192.2 971.5,192.6 972.5,191.7 973.8,188.7 975.2,184.6 976.6,180.6 977.8,177.8 978.9,176.9 980.0,177.1 980.9,177.3 981.8,176.5 982.6,173.5 983.2,169.2 983.8,165.4 984.4,163.9 985.1,165.3 985.8,168.7 986.5,173.4 987.1,179.1 987.6,186.9 988.0,196.6 988.5,205.8 989.1,212.2 989.8,214.6 990.6,214.3 991.5,213.3 992.4,213.6 993.3,216.5 994.3,220.7 995.3,224.0 996.4,224.2 997.5,218.8 998.8,209.7 1000.0,200.8 1001.0,196.3 1001.8,199.2 1002.4,206.5 1002.9,213.8 1003.6,216.2 1004.5,211.3 1005.6,202.0 1006.6,191.9 1007.6,184.4 1008.6,180.4 1009.5,178.0 1010.5,177.0 1011.6,177.1 1012.9,178.5 1014.2,181.2 1015.6,185.0 1016.9,189.7 1018.0,196.3 1019.0,204.6 1019.9,212.7 1020.9,218.9 1021.8,223.1 1022.8,226.2 1023.7,227.6 1024.8,226.8 1026.1,222.4 1027.6,215.0 1029.0,207.5 1030.3,202.4 1031.4,201.0 1032.4,201.6 1033.3,202.9 1034.3,203.0 1035.3,201.5 1036.3,199.0 1037.3,196.8 1038.2,195.8 1039.1,196.0 1039.9,197.0 1040.7,199.0 1041.6,202.4 1042.6,208.2 1043.8,215.8 1045.0,223.4 1046.2,228.9 1047.2,231.8 1048.3,233.1 1049.2,233.2 1050.2,232.2 1051.0,230.0 1051.7,226.5 1052.5,222.0 1053.5,217.0 1054.7,210.1 1056.1,201.7 1057.5,194.2 1058.8,189.8 1059.8,190.2 1060.6,193.8 1061.6,198.2 1062.7,201.1 1064.4,201.2 1066.2,200.2 1068.2,199.2 1070.0,199.7 1071.8,202.8 1073.5,207.5 1075.2,212.0 1076.7,214.3 1077.9,213.8 1079.1,211.5 1080.1,208.3 1081.3,205.0 1082.6,201.0 1084.0,196.0 1085.4,191.7 1086.6,189.8 1087.6,191.3 1088.4,195.1 1089.2,199.7 1089.9,203.7 1090.5,207.0 1091.1,210.2 1091.7,213.2 1092.5,215.6 1093.7,217.4 1095.2,218.5 1096.6,219.6 1097.8,220.9 1098.7,223.6 1099.3,227.1 1099.8,229.5 1100.5,228.9 1101.4,223.4 1102.5,214.5 1103.5,205.2 1104.5,198.4 1105.2,195.0 1105.8,193.3 1106.4,192.8 1107.1,193.1 1108.0,194.6 1108.9,197.3 1110.0,200.3 1111.1,202.4 1112.4,203.3 1113.7,203.7 1115.1,203.8 1116.4,203.7 1117.5,203.3 1118.5,202.5 1119.4,201.9 1120.4,202.4 1121.3,204.8 1122.3,208.5 1123.3,211.8 1124.3,213.0 1125.6,210.5 1127.0,205.5 1128.4,200.7 1129.6,198.4 1130.7,199.9 1131.6,203.5 1132.6,208.0 1133.6,211.7 1134.9,214.2 1136.3,216.5 1137.7,218.6 1138.9,220.9 1139.9,223.5 1140.7,226.2 1141.4,228.9 1142.2,231.5 1143.0,234.4 1143.8,237.5 1144.7,239.9 1145.5,240.8 1146.4,239.4 1147.4,236.5 1148.4,233.0 1149.5,230.2 1150.8,228.4 1152.2,227.1 1153.6,225.7 1154.8,223.6 1155.9,220.2 1156.8,215.9 1157.6,211.8 1158.2,209.0" fill="none" stroke="#8e8e8e" stroke-width="1.3" stroke-linejoin="round"/>
<polyline points="187.6,248.1 188.9,248.9 190.7,250.0 192.6,251.1 194.1,251.5 195.0,250.9 195.6,249.6 196.2,248.5 196.9,248.1 197.9,249.5 198.9,251.8 200.1,253.9 201.5,254.4 203.2,252.1 205.2,248.0 207.2,243.9 208.8,241.3 210.0,240.9 210.8,241.8 211.5,243.1 212.2,244.1 213.1,244.3 214.0,244.2 214.8,244.5 215.7,245.8 216.3,249.6 216.9,255.0 217.6,259.7 218.5,261.2 219.9,257.4 221.5,250.1 223.3,242.8 224.7,239.0 225.9,240.5 226.9,245.0 227.8,250.5 228.7,254.9 229.7,257.6 230.6,259.6 231.6,261.6 232.7,264.0 234.0,267.6 235.6,271.9 237.1,275.6 238.4,277.6 239.3,277.3 240.1,275.3 240.9,272.5 241.8,269.7 242.8,266.6 243.9,262.8 245.1,259.6 246.3,257.8 247.7,258.2 249.2,260.1 250.7,262.5 252.0,264.0 253.1,264.1 254.0,263.4 254.9,263.0 256.0,264.0 257.2,267.4 258.5,272.4 259.9,277.2 261.1,279.9 262.0,279.8 262.8,277.9 263.6,275.3 264.5,273.1 265.5,271.9 266.5,271.0 267.7,269.8 269.0,267.4 270.6,263.0 272.5,257.1 274.3,251.6 275.8,248.1 276.9,247.0 277.7,247.5 278.5,249.4 279.2,252.7 280.1,258.5 280.9,266.5 281.8,274.4 282.6,279.9 283.5,281.9 284.3,281.9 285.1,281.1 286.0,281.0 287.1,282.4 288.3,284.3 289.5,285.8 290.6,286.2 291.4,285.0 292.1,282.7 292.9,279.8 294.0,276.5 295.5,272.0 297.3,266.5 299.2,261.7 300.8,259.5 302.1,261.2 303.2,265.5 304.3,270.5 305.3,274.2 306.4,275.7 307.5,276.1 308.5,276.8 309.5,278.8 310.6,283.7 311.5,290.5 312.5,296.5 313.5,299.2 314.6,296.7 315.6,290.7 316.7,284.1 317.5,279.9 318.0,279.0 318.3,279.7 318.6,281.3 319.2,282.7 320.2,284.7 321.6,287.3 323.0,289.2 324.3,289.0 325.5,285.1 326.6,278.7 327.8,272.4 328.8,268.6 329.8,269.0 330.8,271.9 331.8,274.9 332.8,275.4 334.0,271.8 335.4,265.8 336.7,259.8 337.9,256.1 339.0,255.9 340.0,257.9 340.9,260.2 341.9,261.2 342.9,260.6 343.8,259.3 344.8,257.1 345.9,253.8 347.1,248.3 348.5,241.0 349.8,234.3 351.0,230.5 351.8,231.1 352.5,234.6 353.1,238.8 353.8,241.9 354.6,242.9 355.4,243.1 356.3,243.4 357.2,244.7 358.3,247.5 359.4,251.1 360.6,255.3 361.8,259.5 362.9,264.4 364.1,269.9 365.3,274.8 366.3,277.6 367.2,277.6 368.0,275.5 368.8,272.8 369.7,270.8 370.7,270.4 371.7,270.6 372.7,270.4 373.7,268.6 374.6,264.3 375.6,258.4 376.5,252.2 377.7,247.0 378.9,242.4 380.4,238.0 381.8,235.0 383.3,234.5 384.9,238.4 386.5,245.6 388.1,252.7 389.6,256.1 390.9,253.5 392.2,247.3 393.4,240.9 394.7,237.9 396.1,240.1 397.6,245.2 399.0,250.9 400.4,254.4 401.6,254.9 402.8,253.9 403.9,252.1 404.9,250.4 405.7,248.1 406.3,245.0 407.0,242.6 407.7,242.4 408.7,245.8 409.9,251.7 411.1,257.6 412.3,261.2 413.5,261.3 414.8,259.3 416.1,256.7 417.4,254.9 418.8,254.5 420.3,254.6 421.7,254.6 423.1,253.8 424.3,251.5 425.6,248.4 426.7,245.3 427.6,243.6 428.4,243.7 429.1,245.1 429.7,246.7 430.3,247.5 430.9,246.9 431.5,245.5 432.1,244.4 432.9,244.9 434.1,248.0 435.4,252.8 436.9,257.7 438.2,260.8 439.6,261.4 441.1,260.5 442.4,259.1 443.5,258.1 444.3,258.1 444.9,258.5 445.4,258.3 446.2,256.8 447.4,252.4 448.8,246.1 450.2,240.5 451.5,238.3 452.6,241.3 453.6,247.8 454.5,254.8 455.5,259.4 456.3,260.3 457.0,259.1 457.8,257.8 458.8,258.1 460.1,261.6 461.6,266.9 463.2,271.8 464.7,274.0 466.1,272.3 467.5,268.1 468.8,263.2 470.0,259.4 471.2,257.2 472.4,255.4 473.5,254.3 474.7,254.2 475.9,255.3 477.1,257.5 478.3,260.0 479.3,262.1 480.0,263.9 480.4,265.7 480.8,267.0 481.3,267.4 481.9,266.2 482.5,263.8 483.2,261.5 483.9,260.8 484.7,262.4 485.4,265.6 486.3,269.0 487.2,271.4 488.5,271.7 489.8,270.9 491.3,270.6 492.5,272.7 493.6,278.6 494.5,287.0 495.4,295.6 496.5,301.8 497.8,305.1 499.2,306.8 500.5,307.2 501.8,306.5 502.9,304.4 503.9,301.0 504.8,296.9 505.8,292.6 506.7,287.2 507.7,280.8 508.7,275.3 509.7,272.7 511.0,274.3 512.5,278.7 513.9,284.1 515.0,288.6 515.8,291.5 516.3,293.9 516.9,296.3 517.7,299.2 518.9,303.4 520.5,308.4 522.1,312.6 523.6,314.4 525.2,313.0 526.8,309.4 528.3,304.5 529.6,299.2 530.7,293.1 531.7,286.0 532.6,278.8 533.6,272.7 534.6,267.6 535.6,263.2 536.6,259.5 537.6,256.8 538.5,255.2 539.5,254.6 540.5,254.7 541.5,255.5 542.5,256.7 543.5,258.5 544.5,261.1 545.5,264.7 546.5,270.9 547.5,278.9 548.6,285.9 549.6,289.0 550.8,286.5 552.0,280.3 553.1,272.8 554.3,266.5 555.3,261.9 556.3,257.6 557.3,253.8 558.2,250.6 559.3,247.8 560.3,245.3 561.3,243.7 562.2,243.4 563.1,245.0 563.9,248.2 564.7,251.6 565.5,253.9 566.3,254.3 567.1,253.6 567.9,253.2 568.8,254.6 569.9,259.3 571.1,266.2 572.3,272.5 573.5,275.8 574.6,274.2 575.8,269.5 576.9,264.3 578.1,261.2 579.3,261.7 580.5,264.1 581.6,266.4 582.7,266.5 583.8,262.9 584.8,256.8 585.8,251.0 586.7,248.0 587.5,249.0 588.3,252.5 589.1,256.8 590.0,259.9 591.2,261.0 592.6,261.1 594.0,261.6 595.3,263.9 596.5,269.6 597.6,277.5 598.8,284.9 600.0,289.0 601.3,288.8 602.7,285.9 604.0,281.2 605.2,275.8 606.2,268.4 606.9,259.1 607.6,250.5 608.6,245.3 609.8,245.5 611.2,249.1 612.6,253.5 613.9,255.9 614.8,255.2 615.6,252.9 616.3,250.4 617.2,249.3 618.2,249.9 619.2,251.4 620.4,253.5 621.8,255.9 623.5,259.3 625.5,263.6 627.4,267.4 629.1,269.2 630.3,268.4 631.2,265.9 632.1,262.3 633.1,258.6 634.2,254.4 635.4,249.5 636.6,244.5 637.7,240.0 638.7,236.0 639.6,232.3 640.5,229.1 641.7,226.8 643.2,225.8 645.0,225.7 646.8,226.2 648.3,226.8 649.5,228.0 650.4,229.9 651.3,231.3 652.3,230.8 653.2,227.4 654.2,222.1 655.2,216.5 656.2,212.2 657.2,209.5 658.2,207.6 659.2,206.6 660.2,206.9 661.1,209.1 662.1,212.8 663.0,216.9 664.2,220.2 665.5,222.2 667.1,223.7 668.7,225.1 670.3,226.8 672.0,229.6 673.7,233.0 675.4,235.6 676.9,236.1 678.2,233.3 679.4,228.4 680.4,222.6 681.6,217.5 682.8,212.9 684.0,208.2 685.2,204.2 686.2,201.6 686.9,201.1 687.5,202.1 688.0,203.9 688.8,205.6 690.0,207.1 691.3,208.7 692.7,210.8 694.1,213.6 695.5,218.0 696.8,223.8 698.1,228.9 699.4,231.4 700.8,230.5 702.1,227.3 703.4,223.0 704.7,218.9 706.1,214.2 707.4,208.7 708.7,204.1 710.0,202.3 711.3,204.5 712.5,209.4 713.6,215.2 714.7,220.2 715.6,224.2 716.4,228.2 717.2,231.4 718.0,233.4 718.8,233.5 719.7,232.1 720.5,230.3 721.3,229.4 722.0,230.1 722.6,231.6 723.2,232.8 723.9,232.8 724.6,230.8 725.4,227.6 726.2,224.1 727.2,221.5 728.5,219.8 730.0,218.4 731.6,217.6 733.2,217.5 734.7,218.3 736.2,219.7 737.7,221.7 739.2,224.2 740.5,227.3 741.8,231.0 743.0,234.9 744.4,238.7 746.0,243.0 747.8,247.7 749.5,251.4 751.1,252.6 752.5,249.9 753.9,244.3 755.2,238.5 756.4,234.7 757.5,234.3 758.5,235.6 759.4,237.3 760.3,238.1 761.2,237.1 761.9,235.2 762.7,233.6 763.6,233.4 764.8,236.0 766.2,240.5 767.6,244.3 768.9,245.3 770.1,241.2 771.3,233.7 772.4,226.5 773.6,223.5 774.9,226.9 776.3,234.4 777.6,242.4 778.9,247.3 780.0,247.7 781.0,245.5 781.9,242.8 782.8,241.4 783.7,242.4 784.5,244.6 785.3,246.6 786.2,246.7 787.1,243.3 788.1,237.7 789.1,232.6 790.3,230.9 791.7,234.8 793.2,242.3 794.8,249.9 796.3,254.1 797.5,253.1 798.7,249.1 799.8,244.4 800.9,241.5 801.9,241.4 802.7,242.7 803.7,244.1 804.9,244.2 806.5,241.8 808.3,238.0 810.3,234.5 812.1,232.9 813.9,234.6 815.6,238.4 817.3,242.3 818.8,244.2 820.0,242.7 821.0,239.3 822.1,236.0 823.4,234.9 825.1,237.4 827.1,242.2 829.0,246.9 830.7,249.4 831.9,248.6 832.8,245.7 833.7,242.4 834.7,240.2 835.8,240.0 837.0,240.9 838.2,241.5 839.3,240.2 840.3,235.8 841.2,229.5 842.1,223.2 843.3,219.0 844.8,217.2 846.5,216.9 848.3,218.0 849.9,220.3 851.2,225.4 852.3,232.9 853.4,239.7 854.5,242.8 855.7,240.3 856.9,234.1 858.0,227.2 859.2,223.0 860.2,222.1 861.1,223.0 862.1,224.8 863.1,226.9 864.2,229.2 865.4,231.9 866.5,235.1 867.8,238.9 869.1,243.8 870.5,249.8 871.9,255.2 873.1,258.7 874.0,259.1 874.8,257.4 875.5,255.4 876.4,254.7 877.3,256.4 878.2,259.3 879.2,262.1 880.3,263.4 881.7,261.7 883.3,258.3 884.9,255.3 886.3,254.7 887.5,258.1 888.7,263.8 889.8,270.0 890.9,274.6 892.3,276.8 893.7,277.6 895.1,278.3 896.2,279.9 897.0,283.9 897.6,289.3 898.2,293.5 898.9,293.8 899.8,288.1 900.8,278.4 901.8,267.9 902.8,260.0 903.8,255.8 904.8,253.2 905.8,251.8 906.8,250.8 907.8,250.1 908.7,250.2 909.7,250.8 911.0,252.0 912.4,253.9 914.1,256.7 915.9,259.4 917.6,261.2 919.3,262.6 921.0,263.8 922.7,263.7 924.2,261.2 925.5,253.9 926.7,243.0 927.8,233.3 928.8,229.4 929.8,234.6 930.8,245.5 931.7,257.7 932.8,266.5 934.0,270.8 935.4,273.1 936.7,273.9 938.1,273.8 939.5,272.8 940.8,270.6 942.2,267.6 943.4,263.9 944.5,259.4 945.5,254.2 946.5,248.4 947.4,242.7 948.2,236.4 949.0,229.5 949.8,223.3 950.7,218.9 951.8,216.8 953.0,216.5 954.3,217.1 955.3,217.5 956.1,217.0 956.6,216.2 957.2,216.7 958.0,220.2 959.0,229.1 960.2,241.9 961.4,254.1 962.6,261.2 963.8,261.3 965.0,256.9 966.1,250.7 967.2,245.3 968.2,240.9 969.1,236.2 970.0,231.7 971.2,228.1 972.7,225.8 974.5,224.3 976.3,223.1 977.8,221.5 979.2,219.4 980.4,217.2 981.4,214.8 982.5,212.2 983.4,208.4 984.2,203.8 985.0,200.4 985.8,200.3 986.6,205.4 987.4,214.1 988.2,223.5 989.1,230.8 990.0,234.9 991.1,237.6 992.1,239.8 993.1,242.7 993.9,247.7 994.7,253.9 995.5,258.8 996.4,259.9 997.3,254.8 998.4,245.4 999.4,235.7 1000.3,229.4 1001.1,228.8 1001.8,231.4 1002.6,234.4 1003.6,234.7 1005.1,230.9 1006.9,224.7 1008.7,218.6 1010.3,214.9 1011.6,214.6 1012.8,216.3 1013.8,218.9 1014.9,221.5 1015.9,223.2 1016.8,224.7 1017.8,227.3 1018.9,232.1 1020.1,241.5 1021.3,254.1 1022.7,265.7 1024.2,271.8 1025.8,269.7 1027.7,262.1 1029.5,253.3 1031.0,247.4 1032.0,246.0 1032.8,246.6 1033.5,247.6 1034.3,247.4 1035.2,244.9 1036.3,241.2 1037.3,237.7 1038.2,236.2 1039.1,236.8 1039.9,238.8 1040.7,241.9 1041.6,246.1 1042.4,251.8 1043.1,259.0 1043.9,266.3 1044.9,272.6 1045.9,278.1 1047.1,283.3 1048.4,287.1 1049.5,288.5 1050.5,286.8 1051.4,282.8 1052.4,277.4 1053.5,271.3 1054.7,263.5 1056.1,254.1 1057.5,245.3 1058.8,239.5 1059.8,237.5 1060.7,238.1 1061.6,240.0 1062.7,242.1 1064.1,244.7 1065.5,248.2 1067.0,251.6 1068.7,254.0 1070.6,255.4 1072.8,256.0 1074.9,256.0 1076.7,255.4 1078.0,254.0 1079.1,251.9 1080.2,249.2 1081.3,246.1 1082.6,241.4 1084.0,235.6 1085.3,230.7 1086.6,228.9 1087.7,231.9 1088.7,238.2 1089.6,245.2 1090.6,250.1 1091.4,251.9 1092.3,252.2 1093.1,252.1 1093.9,252.7 1094.7,254.3 1095.5,256.3 1096.4,258.5 1097.2,260.7 1098.0,263.7 1098.8,267.3 1099.6,269.8 1100.5,269.3 1101.5,264.0 1102.5,255.4 1103.6,246.3 1104.5,239.5 1105.2,235.5 1105.8,233.0 1106.4,231.7 1107.1,231.5 1108.0,232.9 1108.9,235.8 1110.0,239.2 1111.1,242.1 1112.4,244.7 1113.7,247.3 1115.1,249.3 1116.4,250.1 1117.5,249.0 1118.5,246.5 1119.4,243.8 1120.4,242.1 1121.3,242.0 1122.3,242.7 1123.3,243.5 1124.3,243.4 1125.6,241.9 1126.9,239.6 1128.3,237.5 1129.6,236.8 1131.0,238.4 1132.4,241.3 1133.7,244.6 1134.9,247.4 1136.0,249.1 1137.0,250.4 1138.0,251.8 1138.9,254.0 1139.8,257.5 1140.6,261.7 1141.4,266.0 1142.2,269.9 1143.1,273.8 1144.1,277.8 1145.1,280.8 1146.2,281.9 1147.3,280.0 1148.5,276.1 1149.7,271.4 1150.8,267.3 1151.9,264.2 1152.9,261.4 1153.9,258.6 1154.8,255.4 1155.8,251.3 1156.7,246.7 1157.6,242.4 1158.2,239.5" fill="none" stroke="#8e8e8e" stroke-width="1.3" stroke-linejoin="round"/>
<polyline points="187.6,209.5 187.9,213.6 188.4,219.6 188.9,225.6 189.5,230.0 190.3,232.0 191.2,232.8 192.1,232.8 192.9,232.8 193.8,232.5 194.6,231.8 195.5,231.2 196.4,231.1 197.3,232.1 198.3,233.8 199.4,235.2 200.3,235.6 201.2,234.4 201.9,232.2 202.7,229.7 203.7,227.7 205.0,226.0 206.6,224.4 208.1,223.3 209.4,223.1 210.4,224.4 211.3,226.6 212.1,229.1 212.8,231.1 213.6,232.1 214.3,232.6 215.0,233.2 215.7,234.5 216.3,237.3 217.0,241.2 217.7,244.4 218.5,245.3 219.4,242.5 220.4,237.3 221.5,231.7 222.5,227.7 223.4,225.6 224.2,224.4 225.1,224.2 225.9,224.8 226.6,226.9 227.3,230.1 227.9,233.7 228.7,236.8 229.6,238.9 230.5,240.5 231.5,242.3 232.7,244.7 234.0,248.7 235.6,253.6 237.1,258.0 238.4,260.0 239.3,258.9 240.1,255.6 240.9,251.5 241.8,248.1 242.8,245.2 243.9,242.3 245.0,240.0 246.3,239.0 247.8,240.2 249.5,243.0 251.2,246.1 252.6,248.1 253.6,248.5 254.3,247.9 255.1,247.5 256.0,248.1 257.2,250.9 258.5,254.9 259.9,258.7 261.1,260.6 262.1,259.7 262.9,256.9 263.7,253.7 264.5,251.5 265.2,251.0 265.9,251.3 266.5,251.5 267.3,251.0 268.2,249.3 269.2,246.9 270.2,244.1 271.3,241.3 272.4,237.9 273.6,233.8 274.8,230.4 275.8,228.8 276.6,229.5 277.3,231.7 277.9,235.0 278.7,239.0 279.5,244.5 280.4,251.4 281.4,258.0 282.6,262.9 284.2,265.5 286.0,266.8 287.8,267.0 289.5,266.3 290.7,264.6 291.8,261.8 292.8,258.4 294.0,254.9 295.5,250.6 297.1,245.4 298.7,241.0 300.2,239.0 301.6,240.8 303.0,245.2 304.2,250.0 305.3,253.2 306.3,254.0 307.1,253.5 307.8,252.8 308.4,252.7 308.9,252.9 309.2,253.3 309.6,254.5 310.1,257.2 310.9,263.0 311.7,271.1 312.7,278.6 313.5,282.7 314.3,282.1 315.0,278.3 315.7,273.5 316.4,269.7 317.0,266.9 317.6,264.3 318.3,262.2 319.2,261.2 320.4,261.8 321.8,263.6 323.2,265.5 324.3,266.3 325.1,265.4 325.6,263.6 326.0,261.5 326.6,259.5 327.2,257.5 327.9,255.3 328.6,253.5 329.4,252.7 330.2,253.4 331.1,255.4 332.0,257.3 332.8,257.8 333.6,256.3 334.3,253.7 335.0,250.7 335.7,248.1 336.2,246.0 336.8,243.9 337.3,242.2 337.9,241.3 338.7,241.8 339.6,243.3 340.5,244.8 341.3,245.3 342.2,244.4 343.0,242.8 343.9,240.5 344.7,237.9 345.6,234.6 346.5,230.6 347.4,226.6 348.1,223.1 348.8,220.1 349.3,217.3 349.8,215.2 350.4,214.1 351.1,214.5 351.8,216.2 352.5,218.2 353.3,219.7 354.1,220.5 355.0,221.0 355.8,221.6 356.7,222.6 357.4,224.0 358.1,225.6 358.8,227.6 359.5,230.0 360.3,232.9 361.2,236.2 362.0,239.9 362.9,243.6 363.8,248.0 364.6,252.9 365.5,257.2 366.3,259.5 367.2,258.9 368.0,256.2 368.9,252.9 369.7,250.4 370.6,249.2 371.4,248.5 372.3,247.7 373.1,245.8 374.0,242.4 374.8,237.9 375.7,233.4 376.5,230.0 377.4,228.3 378.2,227.6 379.0,227.0 379.9,225.4 381.0,221.7 382.1,216.6 383.3,212.3 384.5,210.7 385.7,213.5 387.0,219.5 388.3,225.5 389.6,228.8 390.8,227.8 392.0,224.3 393.1,220.5 394.1,218.6 395.0,219.4 395.9,221.6 396.7,224.3 397.5,226.5 398.4,228.4 399.4,230.3 400.4,231.7 401.5,232.2 402.8,230.9 404.3,228.1 405.8,225.8 407.2,225.4 408.5,228.5 409.8,233.8 411.0,239.1 412.3,241.9 413.6,241.0 414.8,237.9 416.1,234.3 417.4,232.2 418.7,232.6 420.0,234.2 421.3,235.8 422.5,235.6 423.6,232.7 424.6,228.0 425.6,223.4 426.5,220.9 427.3,221.5 428.1,224.1 428.9,227.1 429.6,229.0 430.4,229.0 431.2,228.0 432.0,227.2 432.9,227.7 434.0,230.5 435.2,234.8 436.4,239.0 437.6,241.6 438.6,241.7 439.6,240.4 440.6,238.7 441.6,237.6 442.5,237.9 443.5,238.8 444.4,239.3 445.5,238.3 446.8,234.2 448.3,228.2 449.7,222.6 450.8,219.7 451.7,220.9 452.3,224.5 452.9,229.1 453.5,233.0 454.1,236.1 454.8,239.3 455.4,242.0 456.1,243.6 456.8,243.2 457.5,241.3 458.4,239.6 459.4,239.6 460.9,242.5 462.7,247.4 464.5,251.9 466.0,254.2 467.4,252.8 468.6,249.2 469.7,245.1 470.7,242.2 471.5,241.2 472.1,241.1 472.7,241.0 473.3,240.2 474.1,238.0 475.0,234.8 475.8,232.0 476.6,231.0 477.4,232.5 478.0,235.7 478.6,239.3 479.3,242.2 480.0,244.3 480.6,246.2 481.3,247.6 481.9,248.2 482.6,247.4 483.2,245.6 483.8,243.9 484.6,243.6 485.5,245.2 486.5,248.2 487.5,251.4 488.6,254.2 489.6,255.7 490.5,256.7 491.5,258.1 492.5,260.8 493.5,265.8 494.4,272.3 495.4,278.7 496.5,283.3 497.8,285.6 499.2,286.5 500.5,286.3 501.8,285.3 502.9,283.2 503.9,280.0 504.8,276.3 505.8,272.7 506.8,268.6 507.8,263.9 508.8,260.0 509.7,258.1 510.7,259.2 511.7,262.3 512.7,266.3 513.7,270.0 514.7,273.3 515.6,276.7 516.6,280.0 517.7,283.3 519.0,287.0 520.5,291.0 522.1,294.1 523.6,295.2 525.2,293.7 526.8,290.4 528.3,285.8 529.6,280.6 530.8,274.4 531.9,266.9 532.8,259.3 533.6,252.8 534.1,247.3 534.3,242.4 534.5,238.4 534.9,235.6 535.4,234.7 536.1,235.2 536.8,236.3 537.6,236.9 538.5,236.5 539.5,235.7 540.5,235.4 541.5,236.3 542.5,238.8 543.5,242.4 544.5,246.8 545.5,251.5 546.5,257.7 547.5,265.2 548.6,271.6 549.6,274.5 550.8,272.5 552.0,267.1 553.1,260.4 554.3,254.6 555.3,250.1 556.3,245.8 557.3,241.6 558.2,237.4 559.3,232.6 560.3,227.5 561.3,223.2 562.2,220.8 563.1,221.4 563.9,224.0 564.7,227.2 565.5,229.4 566.4,230.1 567.2,229.9 568.0,230.1 568.8,231.4 569.7,234.8 570.5,239.3 571.4,244.1 572.1,248.0 572.8,251.0 573.5,253.6 574.1,255.4 574.8,255.9 575.5,254.7 576.3,252.0 577.2,249.0 578.1,246.7 579.2,245.6 580.4,245.0 581.6,244.4 582.7,242.7 583.8,239.0 584.8,234.0 585.8,229.5 586.7,227.5 587.5,229.1 588.3,233.1 589.1,237.8 590.0,241.4 591.2,242.8 592.5,243.2 593.9,244.1 595.3,246.7 596.7,252.8 598.0,261.4 599.3,269.2 600.6,273.1 601.8,272.1 603.0,267.8 604.2,261.5 605.2,254.6 606.3,245.8 607.3,234.9 608.2,224.9 609.2,218.9 610.2,218.6 611.2,222.1 612.2,226.7 613.2,229.4 614.2,229.3 615.2,227.8 616.2,226.4 617.2,226.1 618.2,227.9 619.2,230.7 620.2,233.8 621.1,236.1 622.0,237.1 622.7,237.5 623.5,237.8 624.4,238.7 625.6,241.0 627.0,244.1 628.4,246.7 629.7,247.3 631.1,245.1 632.5,241.0 633.9,236.2 635.0,232.1 636.0,228.9 636.8,225.8 637.6,223.0 638.4,220.2 639.2,217.2 640.0,214.2 640.8,211.5 641.7,209.6 642.6,208.8 643.6,208.7 644.6,209.0 645.6,208.9 646.6,208.4 647.6,207.8 648.6,207.2 649.6,206.9 650.6,207.4 651.6,208.3 652.6,208.9 653.6,208.3 654.5,205.9 655.3,202.5 656.1,198.6 656.9,195.0 657.7,191.5 658.5,187.7 659.3,184.6 660.2,183.1 661.2,183.9 662.2,186.2 663.2,189.4 664.2,192.4 665.0,195.4 665.8,198.7 666.6,201.8 667.5,204.3 668.4,205.7 669.4,206.4 670.4,207.0 671.6,208.3 673.0,211.0 674.6,214.6 676.2,217.5 677.6,218.2 678.7,215.6 679.7,210.9 680.7,205.3 681.6,200.3 682.4,195.9 683.2,191.3 684.1,187.3 684.9,184.4 685.6,182.8 686.4,182.2 687.2,182.3 688.2,183.1 689.5,184.4 691.0,186.4 692.6,189.1 694.1,192.4 695.5,197.2 696.8,203.3 698.1,208.9 699.4,212.2 700.8,212.8 702.1,211.6 703.4,209.1 704.7,205.6 706.1,200.2 707.5,192.9 708.8,186.2 710.0,182.4 711.1,182.8 712.1,185.8 713.1,190.0 714.0,193.7 714.9,197.1 715.7,200.9 716.5,204.2 717.3,206.3 718.1,206.5 719.0,205.4 719.8,204.1 720.6,203.6 721.4,204.6 722.2,206.2 723.1,207.8 723.9,208.3 724.9,207.1 725.8,205.0 726.8,202.7 727.9,201.0 729.0,200.1 730.0,199.6 731.2,199.4 732.5,199.7 734.1,200.1 735.8,200.8 737.6,202.1 739.2,204.3 740.4,208.1 741.5,213.1 742.5,218.1 743.8,222.2 745.3,225.2 747.0,227.8 748.8,229.4 750.4,229.4 752.0,226.9 753.6,222.2 755.0,217.6 756.4,214.9 757.5,215.2 758.5,217.4 759.4,219.8 760.3,220.8 761.3,219.5 762.3,216.8 763.3,214.3 764.3,213.6 765.4,216.1 766.6,220.7 767.8,224.9 768.9,226.1 770.1,222.4 771.2,215.3 772.4,208.6 773.6,205.6 774.9,208.6 776.3,215.3 777.7,222.5 778.9,226.8 779.8,226.8 780.6,224.3 781.4,221.5 782.2,220.2 783.1,221.7 784.1,224.8 785.1,227.6 786.2,228.1 787.1,224.5 788.1,218.2 789.1,212.4 790.3,210.4 791.7,214.5 793.2,222.6 794.8,230.8 796.3,235.5 797.5,234.9 798.7,231.2 799.8,226.9 800.9,224.3 801.9,224.6 802.7,226.4 803.7,228.1 804.9,228.3 806.5,225.7 808.3,221.4 810.3,217.3 812.1,215.0 813.9,215.8 815.7,218.4 817.3,221.2 818.8,222.3 819.9,220.7 820.9,217.5 821.8,214.4 822.7,213.0 823.7,214.3 824.7,217.1 825.7,220.4 826.7,223.0 827.7,224.8 828.7,226.5 829.7,227.6 830.7,227.6 831.7,225.9 832.6,223.0 833.6,219.9 834.7,217.7 835.8,217.1 837.0,217.5 838.2,217.7 839.3,216.3 840.3,212.5 841.2,207.0 842.1,201.5 843.3,197.8 844.6,196.1 846.2,195.7 847.7,196.4 849.2,198.5 850.6,203.2 852.0,210.2 853.3,216.6 854.5,219.7 855.7,217.4 856.9,211.8 858.1,205.6 859.2,201.8 860.2,200.9 861.1,201.6 862.1,203.3 863.1,205.8 864.2,209.1 865.4,213.6 866.5,218.4 867.8,223.0 869.1,227.6 870.5,232.6 871.9,236.9 873.1,239.5 874.0,239.5 874.8,237.6 875.5,235.5 876.4,234.9 877.4,236.9 878.6,240.3 879.8,243.7 881.0,245.5 882.3,244.6 883.6,242.1 885.0,239.6 886.3,238.9 887.5,240.5 888.6,243.7 889.7,247.4 890.9,250.8 892.3,253.7 893.7,256.6 895.1,259.6 896.2,262.7 897.0,267.0 897.6,272.0 898.2,275.8 898.9,275.9 899.8,270.5 900.8,261.1 901.8,251.2 902.8,244.2 903.8,241.3 904.8,240.8 905.8,240.9 906.8,240.2 907.8,237.8 908.8,234.6 909.8,231.9 911.0,230.8 912.3,232.0 913.8,234.8 915.3,237.9 916.9,240.0 918.6,241.3 920.3,242.3 922.0,242.1 923.5,240.0 925.0,234.2 926.4,225.6 927.6,217.6 928.8,213.6 929.9,215.0 930.9,219.8 931.8,226.2 932.8,232.1 933.9,238.0 935.0,244.6 936.2,250.5 937.4,253.9 938.7,254.5 940.1,253.1 941.4,250.2 942.7,246.7 944.0,242.0 945.2,236.1 946.3,229.9 947.4,224.2 948.3,218.9 949.1,213.7 949.9,209.1 950.7,205.6 951.5,203.5 952.3,202.5 953.1,202.2 954.0,202.3 954.9,202.2 955.9,202.1 956.9,203.4 958.0,206.9 959.1,215.0 960.3,226.5 961.5,237.2 962.6,243.4 963.7,242.9 964.7,238.3 965.6,232.0 966.6,226.8 967.4,222.8 968.2,218.7 969.0,215.1 969.9,212.2 970.8,210.7 971.7,210.1 972.8,209.6 973.9,208.3 975.1,205.9 976.4,202.9 977.8,199.6 979.2,196.3 980.5,192.3 981.9,187.6 983.3,183.9 984.4,183.1 985.4,186.2 986.3,192.1 987.1,199.1 987.8,205.6 988.3,211.6 988.8,217.9 989.2,223.7 989.7,228.1 990.5,230.6 991.3,231.6 992.2,232.2 993.1,233.4 993.9,236.3 994.7,240.1 995.5,242.9 996.4,242.7 997.3,237.6 998.4,229.1 999.4,220.5 1000.3,214.9 1001.1,214.2 1001.8,216.4 1002.6,218.8 1003.6,218.9 1005.1,214.8 1006.9,208.5 1008.7,202.2 1010.3,198.3 1011.6,197.8 1012.8,199.1 1013.8,201.6 1014.9,204.3 1015.9,207.0 1016.8,210.0 1017.8,213.9 1018.9,218.9 1020.2,226.2 1021.6,235.4 1023.0,243.9 1024.2,249.3 1025.1,250.5 1025.9,249.0 1026.7,246.0 1027.5,242.7 1028.3,238.6 1029.2,233.5 1030.1,228.5 1031.0,224.9 1031.8,223.6 1032.6,223.6 1033.4,223.9 1034.3,223.6 1035.2,221.8 1036.3,219.3 1037.3,217.1 1038.2,216.3 1039.1,217.1 1039.9,219.1 1040.7,221.8 1041.6,224.9 1042.4,228.6 1043.1,232.9 1043.9,237.6 1044.9,242.1 1045.9,247.3 1047.1,253.0 1048.4,257.7 1049.5,260.0 1050.5,259.2 1051.4,256.1 1052.4,251.5 1053.5,246.1 1054.7,238.6 1056.1,229.2 1057.5,220.5 1058.8,215.0 1059.8,214.1 1060.7,216.3 1061.6,219.6 1062.7,222.3 1064.1,223.8 1065.5,225.2 1067.0,226.7 1068.7,228.2 1070.6,230.3 1072.8,232.8 1074.9,234.8 1076.7,235.5 1078.0,234.5 1079.1,232.4 1080.2,229.4 1081.3,226.2 1082.6,221.9 1084.0,216.7 1085.4,212.0 1086.6,209.7 1087.6,210.5 1088.4,213.6 1089.2,217.5 1089.9,220.9 1090.6,223.7 1091.1,226.6 1091.8,229.3 1092.5,231.5 1093.6,233.1 1094.8,234.1 1096.1,235.2 1097.2,236.8 1098.1,240.2 1098.9,244.6 1099.7,248.1 1100.5,248.7 1101.3,245.0 1102.2,238.4 1103.0,230.9 1103.8,224.9 1104.6,220.4 1105.4,216.5 1106.2,213.6 1107.1,212.3 1108.0,213.3 1109.0,216.1 1110.0,219.5 1111.1,222.3 1112.4,224.5 1113.7,226.6 1115.1,228.2 1116.4,228.9 1117.5,227.8 1118.5,225.6 1119.4,223.3 1120.4,222.3 1121.3,223.4 1122.3,225.9 1123.3,228.2 1124.3,228.9 1125.6,226.8 1127.0,223.0 1128.4,219.4 1129.6,217.6 1130.7,218.6 1131.6,221.3 1132.6,224.6 1133.6,227.5 1134.9,229.9 1136.3,232.1 1137.7,234.4 1138.9,236.8 1139.9,239.3 1140.6,241.9 1141.4,244.6 1142.2,247.4 1143.1,251.2 1144.1,255.5 1145.1,259.2 1146.2,260.7 1147.3,259.2 1148.5,255.5 1149.7,251.2 1150.8,247.4 1151.9,244.6 1152.9,242.1 1153.9,239.5 1154.8,236.8 1155.8,233.5 1156.7,229.9 1157.6,226.5 1158.2,224.2" fill="none" stroke="#222" stroke-width="1.75" stroke-linejoin="round"/>
<path d="M187.0,33.4 V445.6 H1158.3" fill="none" stroke="#606060" stroke-width="2.4"/>
<line x1="187.0" y1="33.40" x2="197.0" y2="33.40" stroke="#606060" stroke-width="2.2"/>
<line x1="187.0" y1="102.10" x2="197.0" y2="102.10" stroke="#606060" stroke-width="2.2"/>
<line x1="187.0" y1="170.80" x2="197.0" y2="170.80" stroke="#606060" stroke-width="2.2"/>
<line x1="187.0" y1="239.50" x2="197.0" y2="239.50" stroke="#606060" stroke-width="2.2"/>
<line x1="187.0" y1="308.20" x2="197.0" y2="308.20" stroke="#606060" stroke-width="2.2"/>
<line x1="187.0" y1="376.90" x2="197.0" y2="376.90" stroke="#606060" stroke-width="2.2"/>
<line x1="187.0" y1="445.60" x2="197.0" y2="445.60" stroke="#606060" stroke-width="2.2"/>
<line x1="187.00" y1="445.6" x2="187.00" y2="436.1" stroke="#606060" stroke-width="2.2"/>
<line x1="429.82" y1="445.6" x2="429.82" y2="436.1" stroke="#606060" stroke-width="2.2"/>
<line x1="672.65" y1="445.6" x2="672.65" y2="436.1" stroke="#606060" stroke-width="2.2"/>
<line x1="915.47" y1="445.6" x2="915.47" y2="436.1" stroke="#606060" stroke-width="2.2"/>
<line x1="1158.30" y1="445.6" x2="1158.30" y2="436.1" stroke="#606060" stroke-width="2.2"/>
<polyline points="139.1,678.6 141.0,678.5 143.6,678.2 146.7,678.0 149.8,677.9 152.7,677.9 155.3,678.1 157.8,678.3 160.3,678.7 162.7,679.2 165.0,679.8 167.2,680.6 169.3,681.4 171.3,682.5 173.4,683.6 175.4,684.9 177.5,686.4 179.7,688.1 181.8,689.8 183.9,691.6 185.8,693.4 187.5,695.1 189.1,696.8 190.6,698.5 192.0,700.2 193.4,701.9 194.8,703.6 196.1,705.2 197.3,706.9 198.6,708.6 200.0,710.4 201.4,712.3 202.9,714.4 204.4,716.5 206.0,718.6 207.5,720.8 209.0,723.0 210.6,725.4 212.2,727.7 213.7,730.0 215.1,732.1 216.3,733.7 217.2,734.9 218.1,736.1 219.3,737.9 220.8,740.7 222.9,744.9 225.3,750.2 228.0,756.1 230.7,761.9 233.1,767.1 235.4,771.8 237.6,776.3 239.8,780.6 241.8,784.5 243.5,787.9 244.8,790.4 245.8,792.2 246.6,793.7 247.7,795.5 249.2,798.3 251.4,802.4 254.2,807.5 257.2,812.9 260.0,817.9 262.4,822.0 264.3,824.9 265.9,827.0 267.3,828.7 268.6,830.3 270.0,832.2 271.4,834.4 272.8,836.6 274.1,838.8 275.4,841.0 276.6,843.1 277.7,845.1 278.8,847.1 279.8,849.1 280.8,851.0 282.0,853.0 283.3,855.0 284.6,856.9 286.0,858.9 287.5,860.8 289.1,862.8 290.8,864.8 292.7,866.8 294.6,868.8 296.5,870.7 298.4,872.6 300.2,874.4 301.9,876.0 303.7,877.6 305.4,879.2 307.2,880.8 309.0,882.4 310.9,884.0 312.8,885.6 314.7,887.1 316.5,888.5 318.1,889.8 319.7,890.9 321.2,892.1 322.8,893.2 324.7,894.5 326.9,896.0 329.5,897.5 332.1,899.2 334.7,900.7 337.2,902.2 339.5,903.5 341.7,904.8 343.8,906.0 346.0,907.1 348.2,908.2 350.4,909.3 352.7,910.3 355.0,911.2 357.3,912.2 359.6,913.1 362.0,914.0 364.4,915.0 366.9,915.9 369.3,916.7 371.7,917.5 373.9,918.2 375.9,918.7 378.0,919.3 380.4,919.9 383.2,920.7 386.9,921.8 391.5,923.1 396.1,924.5 400.2,925.8 403.0,926.6" fill="none" stroke="#8a8a8a" stroke-width="3.2" stroke-dasharray="26.5 10.8" stroke-dashoffset="12.9"/>
<polyline points="403.0,926.6 406.8,925.6 412.3,924.2 418.5,922.7 424.4,921.2 429.1,920.0 432.1,919.3 434.0,919.0 435.5,918.8 437.3,918.4 440.1,917.5 444.3,916.0 449.4,914.1 454.8,912.0 459.9,909.9 464.0,908.1 466.8,906.6 468.8,905.3 470.3,904.1 472.0,902.8 474.2,901.3 477.1,899.6 480.4,897.8 483.8,896.0 487.2,894.0 490.4,892.0 493.2,890.0 495.8,888.1 498.4,886.0 501.0,883.6 504.0,880.9 507.5,877.6 511.3,873.7 515.2,869.6 518.9,865.7 521.9,862.2 524.1,859.3 525.6,856.8 526.9,854.4 528.3,851.9 530.0,849.1 532.3,845.7 534.9,842.0 537.7,838.1 540.2,834.4 542.3,831.2 543.8,828.7 544.7,826.7 545.6,824.8 546.5,822.6 548.0,819.8 550.1,816.0 552.8,811.4 555.5,806.5 558.2,801.9 560.3,798.1 561.7,795.3 562.7,793.3 563.5,791.5 564.5,789.5 565.9,786.7 567.8,783.3 569.8,779.5 572.2,775.3 575.0,770.5 578.2,765.0 582.1,758.6 586.5,751.2 591.3,743.4 596.2,735.6 601.0,728.0 605.9,720.3 611.0,712.2 616.0,704.4 620.7,697.5 624.6,692.2 627.7,688.8 630.0,687.0 632.0,686.1 633.9,685.5 635.9,684.6 638.0,683.4 640.0,682.2 642.0,681.2 644.1,680.2 646.3,679.5 648.7,678.9 651.1,678.5 653.7,678.3 656.2,678.1 658.6,678.0 661.1,678.0 663.8,678.2 666.3,678.5 668.5,678.7 670.0,678.9" fill="none" stroke="#8a8a8a" stroke-width="3.2" stroke-dasharray="26.2 11.4"/>
<rect x="178.75" y="743.55" width="61.30" height="19.85" fill="#535353" stroke="#111" stroke-width="1.7"/>
<rect x="257.15" y="723.45" width="59.90" height="39.95" fill="#535353" stroke="#111" stroke-width="1.7"/>
<rect x="331.35" y="694.45" width="60.50" height="68.95" fill="#535353" stroke="#111" stroke-width="1.7"/>
<rect x="409.95" y="730.25" width="59.50" height="33.15" fill="#535353" stroke="#111" stroke-width="1.7"/>
<rect x="484.85" y="763.4" width="59.50" height="38.45" fill="#535353" stroke="#111" stroke-width="1.7"/>
<rect x="561.25" y="684.25" width="61.30" height="79.15" fill="#535353" stroke="#111" stroke-width="1.7"/>
<path d="M210.20,714.2 V772.2 M205.50,714.2 H214.90 M205.50,772.2 H214.90" stroke="#111" stroke-width="1.7" fill="none"/>
<path d="M285.50,693.7 V751.9 M280.80,693.7 H290.20 M280.80,751.9 H290.20" stroke="#111" stroke-width="1.7" fill="none"/>
<path d="M363.50,637.4 V746.4 M358.80,637.4 H368.20 M358.80,746.4 H368.20" stroke="#111" stroke-width="1.7" fill="none"/>
<path d="M437.90,659.8 V796 M433.20,659.8 H442.60 M433.20,796 H442.60" stroke="#111" stroke-width="1.7" fill="none"/>
<path d="M516.30,709.2 V894.4 M511.60,709.2 H521.00 M511.60,894.4 H521.00" stroke="#111" stroke-width="1.7" fill="none"/>
<path d="M591.00,592.9 V772 M586.30,592.9 H595.70 M586.30,772 H595.70" stroke="#111" stroke-width="1.7" fill="none"/>
<line x1="134" y1="763.4" x2="670" y2="763.4" stroke="#111" stroke-width="2.2"/>
<line x1="403.2" y1="568.6" x2="403.2" y2="966" stroke="#111" stroke-width="3.4" stroke-dasharray="13.6 10.3"/>
<path d="M134,559.2 V967.6 H670" fill="none" stroke="#111" stroke-width="2.2"/>
<line x1="134" y1="559.20" x2="138.5" y2="559.20" stroke="#111" stroke-width="2"/>
<line x1="134" y1="661.30" x2="138.5" y2="661.30" stroke="#111" stroke-width="2"/>
<line x1="134" y1="763.40" x2="138.5" y2="763.40" stroke="#111" stroke-width="2"/>
<line x1="134" y1="865.50" x2="138.5" y2="865.50" stroke="#111" stroke-width="2"/>
<line x1="134" y1="967.60" x2="138.5" y2="967.60" stroke="#111" stroke-width="2"/>
<line x1="210.20" y1="967.6" x2="210.20" y2="959.6" stroke="#111" stroke-width="2"/>
<line x1="285.50" y1="967.6" x2="285.50" y2="959.6" stroke="#111" stroke-width="2"/>
<line x1="363.50" y1="967.6" x2="363.50" y2="959.6" stroke="#111" stroke-width="2"/>
<line x1="437.90" y1="967.6" x2="437.90" y2="959.6" stroke="#111" stroke-width="2"/>
<line x1="516.30" y1="967.6" x2="516.30" y2="959.6" stroke="#111" stroke-width="2"/>
<line x1="591.00" y1="967.6" x2="591.00" y2="959.6" stroke="#111" stroke-width="2"/>
<line x1="170.5" y1="562.8" x2="300.6" y2="562.8" stroke="#8c8c8c" stroke-width="2.4" stroke-dasharray="6.8 5.1"/>
<path d="M300.6,553.2 L321.3,562.8 L300.6,572.6 Z" fill="#8c8c8c"/>
<line x1="435.5" y1="562.8" x2="565.8" y2="562.8" stroke="#8c8c8c" stroke-width="2.4" stroke-dasharray="6.8 5.1"/>
<path d="M565.8,553.2 L586.5,562.8 L565.8,572.6 Z" fill="#8c8c8c"/>
<rect x="861.70" y="944.4" width="40.50" height="23.80" fill="#cbcbcb" stroke="#111" stroke-width="2"/>
<rect x="902.20" y="852.8" width="42.20" height="115.40" fill="#cbcbcb" stroke="#111" stroke-width="2"/>
<rect x="944.40" y="711.2" width="41.50" height="257.00" fill="#cbcbcb" stroke="#111" stroke-width="2"/>
<rect x="985.90" y="653.3" width="42.00" height="314.90" fill="#cbcbcb" stroke="#111" stroke-width="2"/>
<rect x="1027.90" y="624.4" width="42.80" height="343.80" fill="#cbcbcb" stroke="#111" stroke-width="2"/>
<rect x="1070.70" y="746.8" width="40.80" height="221.40" fill="#cbcbcb" stroke="#111" stroke-width="2"/>
<rect x="1111.50" y="866.4" width="42.40" height="101.80" fill="#cbcbcb" stroke="#111" stroke-width="2"/>
<rect x="1153.90" y="907" width="41.00" height="61.20" fill="#cbcbcb" stroke="#111" stroke-width="2"/>
<rect x="1194.90" y="956.3" width="42.50" height="11.90" fill="#cbcbcb" stroke="#111" stroke-width="2"/>
<rect x="1237.40" y="956.3" width="41.40" height="11.90" fill="#cbcbcb" stroke="#111" stroke-width="2"/>
<line x1="1005.2" y1="625.3" x2="1005.2" y2="970.2" stroke="#3b4da3" stroke-width="7"/>
<path d="M848,605.8 V968.2 H1319.5 V960.9" fill="none" stroke="#111" stroke-width="2.2"/>
<line x1="848" y1="968.20" x2="853.5" y2="968.20" stroke="#111" stroke-width="1.9"/>
<line x1="848" y1="895.72" x2="853.5" y2="895.72" stroke="#111" stroke-width="1.9"/>
<line x1="848" y1="823.24" x2="853.5" y2="823.24" stroke="#111" stroke-width="1.9"/>
<line x1="848" y1="750.76" x2="853.5" y2="750.76" stroke="#111" stroke-width="1.9"/>
<line x1="848" y1="678.28" x2="853.5" y2="678.28" stroke="#111" stroke-width="1.9"/>
<line x1="848" y1="605.80" x2="853.5" y2="605.80" stroke="#111" stroke-width="1.9"/>
<text transform="translate(9.50,22.80) scale(1.0000,1.0)" font-size="41" font-weight="bold" text-anchor="middle">a</text>
<text transform="translate(11.50,561.30) scale(1.0000,1.0)" font-size="41" font-weight="bold" text-anchor="middle">b</text>
<text transform="translate(730.50,561.20) scale(1.0000,1.0)" font-size="41" font-weight="bold" text-anchor="middle">c</text>
<text transform="translate(155.00,43.20) scale(1.0000,1.0)" font-size="29.2" text-anchor="middle">1.5</text>
<text transform="translate(166.00,246.70) scale(1.0000,1.0)" font-size="29.2" text-anchor="middle">0</text>
<text transform="translate(146.00,451.50) scale(1.0000,1.0)" font-size="29.2" text-anchor="middle">–1.5</text>
<text transform="translate(187.50,480.90) scale(1.0000,1.0)" font-size="29.2" text-anchor="middle">–2</text>
<text transform="translate(430.00,480.90) scale(1.0000,1.0)" font-size="29.2" text-anchor="middle">–1</text>
<text transform="translate(673.00,480.90) scale(1.0000,1.0)" font-size="29.2" text-anchor="middle">0</text>
<text transform="translate(915.00,480.90) scale(1.0000,1.0)" font-size="29.2" text-anchor="middle">1</text>
<text transform="translate(1157.00,480.90) scale(1.0000,1.0)" font-size="29.2" text-anchor="middle">2</text>
<text transform="translate(1194.50,451.60) scale(1.0000,1.06)" font-size="29.2" text-anchor="middle">(s)</text>
<text transform="translate(58.30,240.00) rotate(-90) scale(0.9963,1.06)" font-size="29.2" text-anchor="middle">Respiration-locked resting state</text>
<text transform="translate(93.30,240.50) rotate(-90) scale(0.9988,1.06)" font-size="29.2" text-anchor="middle">EEG amplitude (µV)</text>
<text transform="translate(218.50,600.10) scale(1.0057,1.06)" font-size="29.2" text-anchor="middle">Expiration</text>
<text transform="translate(484.50,600.10) scale(1.0024,1.06)" font-size="29.2" text-anchor="middle">Inspiration</text>
<text transform="translate(110.50,570.30) scale(1.0000,1.0)" font-size="29.2" text-anchor="middle">1</text>
<text transform="translate(112.50,771.80) scale(1.0000,1.0)" font-size="29.2" text-anchor="middle">0</text>
<text transform="translate(102.00,974.40) scale(1.0000,1.0)" font-size="29.2" text-anchor="middle">–1</text>
<text transform="translate(210.00,1003.60) scale(1.0000,1.0)" font-size="29.2" text-anchor="middle">0 <tspan dy="4.3" font-size="32">~</tspan><tspan dy="-4.3"> 60</tspan></text>
<text transform="translate(590.50,1003.60) scale(1.0000,1.0)" font-size="29.2" text-anchor="middle">300 <tspan dy="4.3" font-size="32">~</tspan><tspan dy="-4.3"> 360</tspan></text>
<text transform="translate(402.50,1050.30) scale(1.0003,1.06)" font-size="29.2" text-anchor="middle">Respiratory phase (degree)</text>
<text transform="translate(23.60,760.50) rotate(-90) scale(1.0039,1.06)" font-size="29.2" text-anchor="middle">Normalized resting state</text>
<text transform="translate(58.60,760.50) rotate(-90) scale(1.0020,1.06)" font-size="29.2" text-anchor="middle">EEG amplitude (µV)</text>
<text transform="translate(811.01,615.80) scale(1.0202,1.0)" font-size="29.2" text-anchor="middle">250</text>
<text transform="translate(827.00,976.90) scale(1.0000,1.0)" font-size="29.2" text-anchor="middle">0</text>
<text transform="translate(849.00,1003.70) scale(1.0000,1.0)" font-size="29.2" text-anchor="middle">1</text>
<text transform="translate(1084.50,1003.60) scale(1.0000,1.0)" font-size="29.2" text-anchor="middle">2</text>
<text transform="translate(1319.00,1003.70) scale(1.0000,1.0)" font-size="29.2" text-anchor="middle">3 <tspan dy="3.4">×</tspan><tspan dy="-3.4"> 10</tspan><tspan font-size="20" dy="-11.5">–5</tspan></text>
<text transform="translate(947.99,609.70) scale(0.9908,1.0)" font-size="29.2" text-anchor="middle"><tspan font-style="italic">p</tspan> <tspan dy="3.2">=</tspan><tspan dy="-3.2"> 0.60</tspan></text>
<text transform="translate(1083.00,1050.10) scale(0.9988,1.06)" font-size="29.2" text-anchor="middle">Summed statistics (Modulation index)</text>
<text transform="translate(743.70,780.50) rotate(-90) scale(1.0062,1.06)" font-size="29.2" text-anchor="middle">Number of</text>
<text transform="translate(779.20,780.00) rotate(-90) scale(1.0054,1.06)" font-size="29.2" text-anchor="middle">permutations</text>
</svg>
</body></html>
